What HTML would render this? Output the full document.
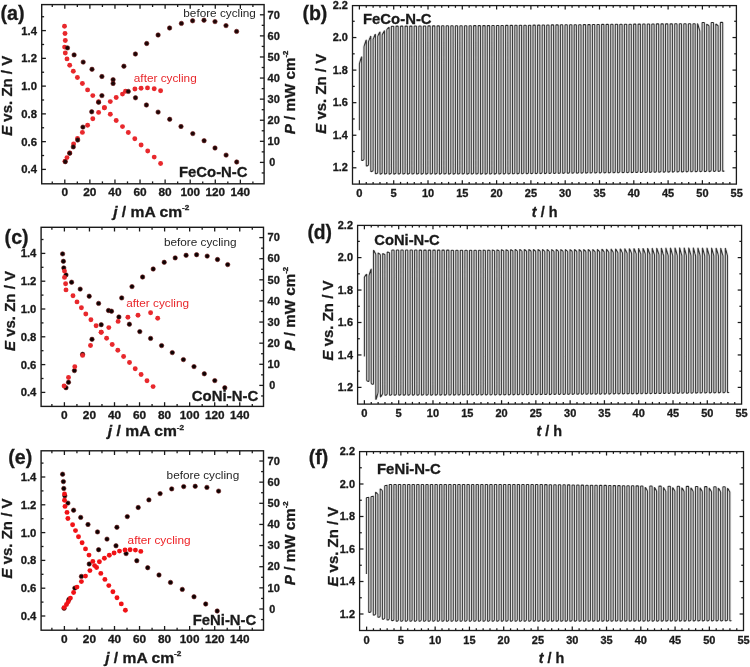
<!DOCTYPE html>
<html lang="en"><head><meta charset="utf-8"><title>Zn-air battery performance: polarization curves and cycling stability</title>
<style>html,body{margin:0;padding:0;background:#fff}svg{display:block;will-change:transform}text{font-family:"Liberation Sans", "DejaVu Sans", sans-serif}</style>
</head><body>
<svg width="750" height="667" viewBox="0 0 750 667">
<rect width="750" height="667" fill="#ffffff"/>
<defs><filter id="soft" x="-2%" y="-2%" width="104%" height="104%"><feConvolveMatrix order="3 1" kernelMatrix="0.07 0.86 0.07" edgeMode="none" preserveAlpha="false"/></filter></defs>
<g id="panel-a">
<line x1="52.26" y1="183.8" x2="52.26" y2="181.4" stroke="#1a1a1a" stroke-width="1.3"/>
<line x1="52.26" y1="4.6" x2="52.26" y2="7" stroke="#1a1a1a" stroke-width="1.3"/>
<line x1="64.8" y1="183.8" x2="64.8" y2="179.6" stroke="#1a1a1a" stroke-width="1.3"/>
<line x1="64.8" y1="4.6" x2="64.8" y2="8.8" stroke="#1a1a1a" stroke-width="1.3"/>
<line x1="77.34" y1="183.8" x2="77.34" y2="181.4" stroke="#1a1a1a" stroke-width="1.3"/>
<line x1="77.34" y1="4.6" x2="77.34" y2="7" stroke="#1a1a1a" stroke-width="1.3"/>
<line x1="89.88" y1="183.8" x2="89.88" y2="179.6" stroke="#1a1a1a" stroke-width="1.3"/>
<line x1="89.88" y1="4.6" x2="89.88" y2="8.8" stroke="#1a1a1a" stroke-width="1.3"/>
<line x1="102.42" y1="183.8" x2="102.42" y2="181.4" stroke="#1a1a1a" stroke-width="1.3"/>
<line x1="102.42" y1="4.6" x2="102.42" y2="7" stroke="#1a1a1a" stroke-width="1.3"/>
<line x1="114.96" y1="183.8" x2="114.96" y2="179.6" stroke="#1a1a1a" stroke-width="1.3"/>
<line x1="114.96" y1="4.6" x2="114.96" y2="8.8" stroke="#1a1a1a" stroke-width="1.3"/>
<line x1="127.5" y1="183.8" x2="127.5" y2="181.4" stroke="#1a1a1a" stroke-width="1.3"/>
<line x1="127.5" y1="4.6" x2="127.5" y2="7" stroke="#1a1a1a" stroke-width="1.3"/>
<line x1="140.04" y1="183.8" x2="140.04" y2="179.6" stroke="#1a1a1a" stroke-width="1.3"/>
<line x1="140.04" y1="4.6" x2="140.04" y2="8.8" stroke="#1a1a1a" stroke-width="1.3"/>
<line x1="152.58" y1="183.8" x2="152.58" y2="181.4" stroke="#1a1a1a" stroke-width="1.3"/>
<line x1="152.58" y1="4.6" x2="152.58" y2="7" stroke="#1a1a1a" stroke-width="1.3"/>
<line x1="165.12" y1="183.8" x2="165.12" y2="179.6" stroke="#1a1a1a" stroke-width="1.3"/>
<line x1="165.12" y1="4.6" x2="165.12" y2="8.8" stroke="#1a1a1a" stroke-width="1.3"/>
<line x1="177.66" y1="183.8" x2="177.66" y2="181.4" stroke="#1a1a1a" stroke-width="1.3"/>
<line x1="177.66" y1="4.6" x2="177.66" y2="7" stroke="#1a1a1a" stroke-width="1.3"/>
<line x1="190.2" y1="183.8" x2="190.2" y2="179.6" stroke="#1a1a1a" stroke-width="1.3"/>
<line x1="190.2" y1="4.6" x2="190.2" y2="8.8" stroke="#1a1a1a" stroke-width="1.3"/>
<line x1="202.74" y1="183.8" x2="202.74" y2="181.4" stroke="#1a1a1a" stroke-width="1.3"/>
<line x1="202.74" y1="4.6" x2="202.74" y2="7" stroke="#1a1a1a" stroke-width="1.3"/>
<line x1="215.28" y1="183.8" x2="215.28" y2="179.6" stroke="#1a1a1a" stroke-width="1.3"/>
<line x1="215.28" y1="4.6" x2="215.28" y2="8.8" stroke="#1a1a1a" stroke-width="1.3"/>
<line x1="227.82" y1="183.8" x2="227.82" y2="181.4" stroke="#1a1a1a" stroke-width="1.3"/>
<line x1="227.82" y1="4.6" x2="227.82" y2="7" stroke="#1a1a1a" stroke-width="1.3"/>
<line x1="240.36" y1="183.8" x2="240.36" y2="179.6" stroke="#1a1a1a" stroke-width="1.3"/>
<line x1="240.36" y1="4.6" x2="240.36" y2="8.8" stroke="#1a1a1a" stroke-width="1.3"/>
<line x1="252.9" y1="183.8" x2="252.9" y2="181.4" stroke="#1a1a1a" stroke-width="1.3"/>
<line x1="252.9" y1="4.6" x2="252.9" y2="7" stroke="#1a1a1a" stroke-width="1.3"/>
<line x1="41.7" y1="169.4" x2="45.9" y2="169.4" stroke="#1a1a1a" stroke-width="1.3"/>
<line x1="41.7" y1="155.52" x2="44.1" y2="155.52" stroke="#1a1a1a" stroke-width="1.3"/>
<line x1="41.7" y1="141.64" x2="45.9" y2="141.64" stroke="#1a1a1a" stroke-width="1.3"/>
<line x1="41.7" y1="127.76" x2="44.1" y2="127.76" stroke="#1a1a1a" stroke-width="1.3"/>
<line x1="41.7" y1="113.88" x2="45.9" y2="113.88" stroke="#1a1a1a" stroke-width="1.3"/>
<line x1="41.7" y1="100" x2="44.1" y2="100" stroke="#1a1a1a" stroke-width="1.3"/>
<line x1="41.7" y1="86.12" x2="45.9" y2="86.12" stroke="#1a1a1a" stroke-width="1.3"/>
<line x1="41.7" y1="72.24" x2="44.1" y2="72.24" stroke="#1a1a1a" stroke-width="1.3"/>
<line x1="41.7" y1="58.36" x2="45.9" y2="58.36" stroke="#1a1a1a" stroke-width="1.3"/>
<line x1="41.7" y1="44.48" x2="44.1" y2="44.48" stroke="#1a1a1a" stroke-width="1.3"/>
<line x1="41.7" y1="30.6" x2="45.9" y2="30.6" stroke="#1a1a1a" stroke-width="1.3"/>
<line x1="41.7" y1="16.72" x2="44.1" y2="16.72" stroke="#1a1a1a" stroke-width="1.3"/>
<line x1="264.1" y1="172.94" x2="261.7" y2="172.94" stroke="#1a1a1a" stroke-width="1.3"/>
<line x1="264.1" y1="162.4" x2="259.9" y2="162.4" stroke="#1a1a1a" stroke-width="1.3"/>
<line x1="264.1" y1="151.86" x2="261.7" y2="151.86" stroke="#1a1a1a" stroke-width="1.3"/>
<line x1="264.1" y1="141.31" x2="259.9" y2="141.31" stroke="#1a1a1a" stroke-width="1.3"/>
<line x1="264.1" y1="130.77" x2="261.7" y2="130.77" stroke="#1a1a1a" stroke-width="1.3"/>
<line x1="264.1" y1="120.23" x2="259.9" y2="120.23" stroke="#1a1a1a" stroke-width="1.3"/>
<line x1="264.1" y1="109.69" x2="261.7" y2="109.69" stroke="#1a1a1a" stroke-width="1.3"/>
<line x1="264.1" y1="99.14" x2="259.9" y2="99.14" stroke="#1a1a1a" stroke-width="1.3"/>
<line x1="264.1" y1="88.6" x2="261.7" y2="88.6" stroke="#1a1a1a" stroke-width="1.3"/>
<line x1="264.1" y1="78.06" x2="259.9" y2="78.06" stroke="#1a1a1a" stroke-width="1.3"/>
<line x1="264.1" y1="67.51" x2="261.7" y2="67.51" stroke="#1a1a1a" stroke-width="1.3"/>
<line x1="264.1" y1="56.97" x2="259.9" y2="56.97" stroke="#1a1a1a" stroke-width="1.3"/>
<line x1="264.1" y1="46.43" x2="261.7" y2="46.43" stroke="#1a1a1a" stroke-width="1.3"/>
<line x1="264.1" y1="35.88" x2="259.9" y2="35.88" stroke="#1a1a1a" stroke-width="1.3"/>
<line x1="264.1" y1="25.34" x2="261.7" y2="25.34" stroke="#1a1a1a" stroke-width="1.3"/>
<line x1="264.1" y1="14.8" x2="259.9" y2="14.8" stroke="#1a1a1a" stroke-width="1.3"/>
<rect x="41.7" y="4.6" width="222.4" height="179.2" fill="none" stroke="#1a1a1a" stroke-width="1.4"/>
<text x="37" y="173.4" font-size="11" font-weight="bold" stroke="#1a1a1a" stroke-width="0.3" text-anchor="end" fill="#1a1a1a" textLength="15.7" lengthAdjust="spacingAndGlyphs">0.4</text>
<text x="37" y="145.64" font-size="11" font-weight="bold" stroke="#1a1a1a" stroke-width="0.3" text-anchor="end" fill="#1a1a1a" textLength="15.7" lengthAdjust="spacingAndGlyphs">0.6</text>
<text x="37" y="117.88" font-size="11" font-weight="bold" stroke="#1a1a1a" stroke-width="0.3" text-anchor="end" fill="#1a1a1a" textLength="15.7" lengthAdjust="spacingAndGlyphs">0.8</text>
<text x="37" y="90.12" font-size="11" font-weight="bold" stroke="#1a1a1a" stroke-width="0.3" text-anchor="end" fill="#1a1a1a" textLength="15.7" lengthAdjust="spacingAndGlyphs">1.0</text>
<text x="37" y="62.36" font-size="11" font-weight="bold" stroke="#1a1a1a" stroke-width="0.3" text-anchor="end" fill="#1a1a1a" textLength="15.7" lengthAdjust="spacingAndGlyphs">1.2</text>
<text x="37" y="34.6" font-size="11" font-weight="bold" stroke="#1a1a1a" stroke-width="0.3" text-anchor="end" fill="#1a1a1a" textLength="15.7" lengthAdjust="spacingAndGlyphs">1.4</text>
<text x="269.3" y="166.1" font-size="11" font-weight="bold" stroke="#1a1a1a" stroke-width="0.3" fill="#1a1a1a" textLength="6" lengthAdjust="spacingAndGlyphs">0</text>
<text x="267.6" y="145.01" font-size="11" font-weight="bold" stroke="#1a1a1a" stroke-width="0.3" fill="#1a1a1a" textLength="12.3" lengthAdjust="spacingAndGlyphs">10</text>
<text x="267.6" y="123.93" font-size="11" font-weight="bold" stroke="#1a1a1a" stroke-width="0.3" fill="#1a1a1a" textLength="12.3" lengthAdjust="spacingAndGlyphs">20</text>
<text x="267.6" y="102.84" font-size="11" font-weight="bold" stroke="#1a1a1a" stroke-width="0.3" fill="#1a1a1a" textLength="12.3" lengthAdjust="spacingAndGlyphs">30</text>
<text x="267.6" y="81.76" font-size="11" font-weight="bold" stroke="#1a1a1a" stroke-width="0.3" fill="#1a1a1a" textLength="12.3" lengthAdjust="spacingAndGlyphs">40</text>
<text x="267.6" y="60.67" font-size="11" font-weight="bold" stroke="#1a1a1a" stroke-width="0.3" fill="#1a1a1a" textLength="12.3" lengthAdjust="spacingAndGlyphs">50</text>
<text x="267.6" y="39.58" font-size="11" font-weight="bold" stroke="#1a1a1a" stroke-width="0.3" fill="#1a1a1a" textLength="12.3" lengthAdjust="spacingAndGlyphs">60</text>
<text x="267.6" y="18.5" font-size="11" font-weight="bold" stroke="#1a1a1a" stroke-width="0.3" fill="#1a1a1a" textLength="12.3" lengthAdjust="spacingAndGlyphs">70</text>
<text x="64.8" y="196.3" font-size="11" font-weight="bold" stroke="#1a1a1a" stroke-width="0.3" text-anchor="middle" fill="#1a1a1a" textLength="6.6" lengthAdjust="spacingAndGlyphs">0</text>
<text x="89.88" y="196.3" font-size="11" font-weight="bold" stroke="#1a1a1a" stroke-width="0.3" text-anchor="middle" fill="#1a1a1a" textLength="13.2" lengthAdjust="spacingAndGlyphs">20</text>
<text x="114.96" y="196.3" font-size="11" font-weight="bold" stroke="#1a1a1a" stroke-width="0.3" text-anchor="middle" fill="#1a1a1a" textLength="13.2" lengthAdjust="spacingAndGlyphs">40</text>
<text x="140.04" y="196.3" font-size="11" font-weight="bold" stroke="#1a1a1a" stroke-width="0.3" text-anchor="middle" fill="#1a1a1a" textLength="13.2" lengthAdjust="spacingAndGlyphs">60</text>
<text x="165.12" y="196.3" font-size="11" font-weight="bold" stroke="#1a1a1a" stroke-width="0.3" text-anchor="middle" fill="#1a1a1a" textLength="13.2" lengthAdjust="spacingAndGlyphs">80</text>
<text x="190.2" y="196.3" font-size="11" font-weight="bold" stroke="#1a1a1a" stroke-width="0.3" text-anchor="middle" fill="#1a1a1a" textLength="19.6" lengthAdjust="spacingAndGlyphs">100</text>
<text x="215.28" y="196.3" font-size="11" font-weight="bold" stroke="#1a1a1a" stroke-width="0.3" text-anchor="middle" fill="#1a1a1a" textLength="19.6" lengthAdjust="spacingAndGlyphs">120</text>
<text x="240.36" y="196.3" font-size="11" font-weight="bold" stroke="#1a1a1a" stroke-width="0.3" text-anchor="middle" fill="#1a1a1a" textLength="19.6" lengthAdjust="spacingAndGlyphs">140</text>
<text x="12.4" y="95.8" font-size="15.3" font-weight="bold" stroke="#1a1a1a" stroke-width="0.3" text-anchor="middle" fill="#1a1a1a" textLength="80" lengthAdjust="spacingAndGlyphs" transform="rotate(-90 12.4 95.8)"><tspan font-style="italic">E</tspan> vs. Zn / V</text>
<text x="295" y="92.5" font-size="15.3" font-weight="bold" stroke="#1a1a1a" stroke-width="0.3" text-anchor="middle" fill="#1a1a1a" textLength="83.7" lengthAdjust="spacingAndGlyphs" transform="rotate(-90 295 92.5)"><tspan font-style="italic">P</tspan> / mW cm<tspan font-size="7.8" dy="-6.6">-2</tspan></text>
<text x="151.3" y="217" font-size="14.8" font-weight="bold" stroke="#1a1a1a" stroke-width="0.3" text-anchor="middle" fill="#1a1a1a" textLength="76.3" lengthAdjust="spacingAndGlyphs"><tspan font-style="italic">j</tspan> / mA cm<tspan font-size="7.8" dy="-6.6">-2</tspan></text>
<text x="0.5" y="20.3" font-size="20.3" font-weight="bold" stroke="#1a1a1a" stroke-width="0.3" fill="#1a1a1a" textLength="24.2" lengthAdjust="spacingAndGlyphs">(a)</text>
<g fill="#e8282c">
<circle cx="64.5" cy="26.3" r="2.45"/>
<circle cx="65" cy="33.5" r="2.45"/>
<circle cx="65.3" cy="40.5" r="2.45"/>
<circle cx="64.6" cy="47.1" r="2.45"/>
<circle cx="65.3" cy="53" r="2.45"/>
<circle cx="67" cy="58.9" r="2.45"/>
<circle cx="69.7" cy="65.2" r="2.45"/>
<circle cx="73.3" cy="71.3" r="2.45"/>
<circle cx="77.4" cy="77.5" r="2.45"/>
<circle cx="82.4" cy="83.5" r="2.45"/>
<circle cx="87.6" cy="89.9" r="2.45"/>
<circle cx="92.8" cy="95.6" r="2.45"/>
<circle cx="98.6" cy="101.8" r="2.45"/>
<circle cx="104.4" cy="107.7" r="2.45"/>
<circle cx="110.3" cy="114.3" r="2.45"/>
<circle cx="116.2" cy="120.5" r="2.45"/>
<circle cx="122.5" cy="126.6" r="2.45"/>
<circle cx="128.3" cy="132.5" r="2.45"/>
<circle cx="134.8" cy="138.8" r="2.45"/>
<circle cx="141.1" cy="145" r="2.45"/>
<circle cx="147.7" cy="151" r="2.45"/>
<circle cx="154.2" cy="157.1" r="2.45"/>
<circle cx="160.6" cy="163.5" r="2.45"/>
</g>
<g fill="#e8282c">
<circle cx="65" cy="161.3" r="2.45"/>
<circle cx="67" cy="157.6" r="2.45"/>
<circle cx="69.7" cy="153" r="2.45"/>
<circle cx="73.6" cy="144" r="2.45"/>
<circle cx="77.5" cy="138.5" r="2.45"/>
<circle cx="82.4" cy="132.4" r="2.45"/>
<circle cx="87.6" cy="125.3" r="2.45"/>
<circle cx="92.8" cy="118.7" r="2.45"/>
<circle cx="98.6" cy="112.4" r="2.45"/>
<circle cx="104.4" cy="107.7" r="2.45"/>
<circle cx="110.3" cy="101.6" r="2.45"/>
<circle cx="116.2" cy="97.5" r="2.45"/>
<circle cx="122.5" cy="94.1" r="2.45"/>
<circle cx="125.5" cy="91.2" r="2.45"/>
<circle cx="134.9" cy="89" r="2.45"/>
<circle cx="141.1" cy="88.2" r="2.45"/>
<circle cx="147.5" cy="87.9" r="2.45"/>
<circle cx="154.2" cy="88.8" r="2.45"/>
<circle cx="160.6" cy="90.8" r="2.45"/>
</g>
<g fill="#1c0707" stroke="#6e1616" stroke-width="0.6">
<circle cx="65.3" cy="161.7" r="2.2"/>
<circle cx="69.7" cy="153.2" r="2.2"/>
<circle cx="73.3" cy="146.9" r="2.2"/>
<circle cx="77.7" cy="140" r="2.2"/>
<circle cx="82.9" cy="127.1" r="2.2"/>
<circle cx="91.7" cy="111.8" r="2.2"/>
<circle cx="98.6" cy="102.3" r="2.2"/>
<circle cx="101.9" cy="95.6" r="2.2"/>
<circle cx="113.1" cy="79.7" r="2.2"/>
<circle cx="123.9" cy="66.2" r="2.2"/>
<circle cx="135.4" cy="54" r="2.2"/>
<circle cx="146.7" cy="43.5" r="2.2"/>
<circle cx="158.1" cy="35" r="2.2"/>
<circle cx="169.6" cy="28" r="2.2"/>
<circle cx="181.4" cy="23.4" r="2.2"/>
<circle cx="192.6" cy="20.8" r="2.2"/>
<circle cx="204" cy="20.2" r="2.2"/>
<circle cx="215" cy="21.6" r="2.2"/>
<circle cx="226" cy="25.6" r="2.2"/>
<circle cx="236.6" cy="31.4" r="2.2"/>
</g>
<g fill="#1c0707" stroke="#6e1616" stroke-width="0.6">
<circle cx="67.5" cy="47.9" r="2.2"/>
<circle cx="74.1" cy="54.9" r="2.2"/>
<circle cx="83.2" cy="62.1" r="2.2"/>
<circle cx="92" cy="69.3" r="2.2"/>
<circle cx="101.9" cy="76.5" r="2.2"/>
<circle cx="113.1" cy="83.5" r="2.2"/>
<circle cx="128.3" cy="91.4" r="2.2"/>
<circle cx="135.5" cy="97.8" r="2.2"/>
<circle cx="146.4" cy="105" r="2.2"/>
<circle cx="158.1" cy="112.1" r="2.2"/>
<circle cx="169.7" cy="119.3" r="2.2"/>
<circle cx="181" cy="126.5" r="2.2"/>
<circle cx="192.8" cy="133.6" r="2.2"/>
<circle cx="204.1" cy="140.7" r="2.2"/>
<circle cx="215" cy="148" r="2.2"/>
<circle cx="226.1" cy="155.1" r="2.2"/>
<circle cx="236.7" cy="162" r="2.2"/>
</g>
<text x="183.3" y="17.2" font-size="11.7" fill="#262626" textLength="72.6" lengthAdjust="spacingAndGlyphs">before cycling</text>
<text x="133.8" y="82" font-size="11.7" fill="#e8282c" textLength="62.9" lengthAdjust="spacingAndGlyphs">after cycling</text>
<text x="179" y="176.9" font-size="14.8" font-weight="bold" stroke="#1a1a1a" stroke-width="0.3" fill="#1a1a1a" textLength="68.5" lengthAdjust="spacingAndGlyphs">FeCo-N-C</text>
</g>
<g id="panel-c">
<line x1="51.88" y1="406.4" x2="51.88" y2="404" stroke="#1a1a1a" stroke-width="1.3"/>
<line x1="51.88" y1="227.3" x2="51.88" y2="229.7" stroke="#1a1a1a" stroke-width="1.3"/>
<line x1="64.4" y1="406.4" x2="64.4" y2="402.2" stroke="#1a1a1a" stroke-width="1.3"/>
<line x1="64.4" y1="227.3" x2="64.4" y2="231.5" stroke="#1a1a1a" stroke-width="1.3"/>
<line x1="76.93" y1="406.4" x2="76.93" y2="404" stroke="#1a1a1a" stroke-width="1.3"/>
<line x1="76.93" y1="227.3" x2="76.93" y2="229.7" stroke="#1a1a1a" stroke-width="1.3"/>
<line x1="89.45" y1="406.4" x2="89.45" y2="402.2" stroke="#1a1a1a" stroke-width="1.3"/>
<line x1="89.45" y1="227.3" x2="89.45" y2="231.5" stroke="#1a1a1a" stroke-width="1.3"/>
<line x1="101.97" y1="406.4" x2="101.97" y2="404" stroke="#1a1a1a" stroke-width="1.3"/>
<line x1="101.97" y1="227.3" x2="101.97" y2="229.7" stroke="#1a1a1a" stroke-width="1.3"/>
<line x1="114.5" y1="406.4" x2="114.5" y2="402.2" stroke="#1a1a1a" stroke-width="1.3"/>
<line x1="114.5" y1="227.3" x2="114.5" y2="231.5" stroke="#1a1a1a" stroke-width="1.3"/>
<line x1="127.03" y1="406.4" x2="127.03" y2="404" stroke="#1a1a1a" stroke-width="1.3"/>
<line x1="127.03" y1="227.3" x2="127.03" y2="229.7" stroke="#1a1a1a" stroke-width="1.3"/>
<line x1="139.55" y1="406.4" x2="139.55" y2="402.2" stroke="#1a1a1a" stroke-width="1.3"/>
<line x1="139.55" y1="227.3" x2="139.55" y2="231.5" stroke="#1a1a1a" stroke-width="1.3"/>
<line x1="152.07" y1="406.4" x2="152.07" y2="404" stroke="#1a1a1a" stroke-width="1.3"/>
<line x1="152.07" y1="227.3" x2="152.07" y2="229.7" stroke="#1a1a1a" stroke-width="1.3"/>
<line x1="164.6" y1="406.4" x2="164.6" y2="402.2" stroke="#1a1a1a" stroke-width="1.3"/>
<line x1="164.6" y1="227.3" x2="164.6" y2="231.5" stroke="#1a1a1a" stroke-width="1.3"/>
<line x1="177.12" y1="406.4" x2="177.12" y2="404" stroke="#1a1a1a" stroke-width="1.3"/>
<line x1="177.12" y1="227.3" x2="177.12" y2="229.7" stroke="#1a1a1a" stroke-width="1.3"/>
<line x1="189.65" y1="406.4" x2="189.65" y2="402.2" stroke="#1a1a1a" stroke-width="1.3"/>
<line x1="189.65" y1="227.3" x2="189.65" y2="231.5" stroke="#1a1a1a" stroke-width="1.3"/>
<line x1="202.18" y1="406.4" x2="202.18" y2="404" stroke="#1a1a1a" stroke-width="1.3"/>
<line x1="202.18" y1="227.3" x2="202.18" y2="229.7" stroke="#1a1a1a" stroke-width="1.3"/>
<line x1="214.7" y1="406.4" x2="214.7" y2="402.2" stroke="#1a1a1a" stroke-width="1.3"/>
<line x1="214.7" y1="227.3" x2="214.7" y2="231.5" stroke="#1a1a1a" stroke-width="1.3"/>
<line x1="227.22" y1="406.4" x2="227.22" y2="404" stroke="#1a1a1a" stroke-width="1.3"/>
<line x1="227.22" y1="227.3" x2="227.22" y2="229.7" stroke="#1a1a1a" stroke-width="1.3"/>
<line x1="239.75" y1="406.4" x2="239.75" y2="402.2" stroke="#1a1a1a" stroke-width="1.3"/>
<line x1="239.75" y1="227.3" x2="239.75" y2="231.5" stroke="#1a1a1a" stroke-width="1.3"/>
<line x1="252.28" y1="406.4" x2="252.28" y2="404" stroke="#1a1a1a" stroke-width="1.3"/>
<line x1="252.28" y1="227.3" x2="252.28" y2="229.7" stroke="#1a1a1a" stroke-width="1.3"/>
<line x1="41.1" y1="392.4" x2="45.3" y2="392.4" stroke="#1a1a1a" stroke-width="1.3"/>
<line x1="41.1" y1="378.5" x2="43.5" y2="378.5" stroke="#1a1a1a" stroke-width="1.3"/>
<line x1="41.1" y1="364.6" x2="45.3" y2="364.6" stroke="#1a1a1a" stroke-width="1.3"/>
<line x1="41.1" y1="350.7" x2="43.5" y2="350.7" stroke="#1a1a1a" stroke-width="1.3"/>
<line x1="41.1" y1="336.8" x2="45.3" y2="336.8" stroke="#1a1a1a" stroke-width="1.3"/>
<line x1="41.1" y1="322.9" x2="43.5" y2="322.9" stroke="#1a1a1a" stroke-width="1.3"/>
<line x1="41.1" y1="309" x2="45.3" y2="309" stroke="#1a1a1a" stroke-width="1.3"/>
<line x1="41.1" y1="295.1" x2="43.5" y2="295.1" stroke="#1a1a1a" stroke-width="1.3"/>
<line x1="41.1" y1="281.2" x2="45.3" y2="281.2" stroke="#1a1a1a" stroke-width="1.3"/>
<line x1="41.1" y1="267.3" x2="43.5" y2="267.3" stroke="#1a1a1a" stroke-width="1.3"/>
<line x1="41.1" y1="253.4" x2="45.3" y2="253.4" stroke="#1a1a1a" stroke-width="1.3"/>
<line x1="41.1" y1="239.5" x2="43.5" y2="239.5" stroke="#1a1a1a" stroke-width="1.3"/>
<line x1="263.5" y1="395.96" x2="261.1" y2="395.96" stroke="#1a1a1a" stroke-width="1.3"/>
<line x1="263.5" y1="385.4" x2="259.3" y2="385.4" stroke="#1a1a1a" stroke-width="1.3"/>
<line x1="263.5" y1="374.84" x2="261.1" y2="374.84" stroke="#1a1a1a" stroke-width="1.3"/>
<line x1="263.5" y1="364.29" x2="259.3" y2="364.29" stroke="#1a1a1a" stroke-width="1.3"/>
<line x1="263.5" y1="353.73" x2="261.1" y2="353.73" stroke="#1a1a1a" stroke-width="1.3"/>
<line x1="263.5" y1="343.17" x2="259.3" y2="343.17" stroke="#1a1a1a" stroke-width="1.3"/>
<line x1="263.5" y1="332.61" x2="261.1" y2="332.61" stroke="#1a1a1a" stroke-width="1.3"/>
<line x1="263.5" y1="322.06" x2="259.3" y2="322.06" stroke="#1a1a1a" stroke-width="1.3"/>
<line x1="263.5" y1="311.5" x2="261.1" y2="311.5" stroke="#1a1a1a" stroke-width="1.3"/>
<line x1="263.5" y1="300.94" x2="259.3" y2="300.94" stroke="#1a1a1a" stroke-width="1.3"/>
<line x1="263.5" y1="290.39" x2="261.1" y2="290.39" stroke="#1a1a1a" stroke-width="1.3"/>
<line x1="263.5" y1="279.83" x2="259.3" y2="279.83" stroke="#1a1a1a" stroke-width="1.3"/>
<line x1="263.5" y1="269.27" x2="261.1" y2="269.27" stroke="#1a1a1a" stroke-width="1.3"/>
<line x1="263.5" y1="258.72" x2="259.3" y2="258.72" stroke="#1a1a1a" stroke-width="1.3"/>
<line x1="263.5" y1="248.16" x2="261.1" y2="248.16" stroke="#1a1a1a" stroke-width="1.3"/>
<line x1="263.5" y1="237.6" x2="259.3" y2="237.6" stroke="#1a1a1a" stroke-width="1.3"/>
<rect x="41.1" y="227.3" width="222.4" height="179.1" fill="none" stroke="#1a1a1a" stroke-width="1.4"/>
<text x="36.4" y="396.4" font-size="11" font-weight="bold" stroke="#1a1a1a" stroke-width="0.3" text-anchor="end" fill="#1a1a1a" textLength="15.7" lengthAdjust="spacingAndGlyphs">0.4</text>
<text x="36.4" y="368.6" font-size="11" font-weight="bold" stroke="#1a1a1a" stroke-width="0.3" text-anchor="end" fill="#1a1a1a" textLength="15.7" lengthAdjust="spacingAndGlyphs">0.6</text>
<text x="36.4" y="340.8" font-size="11" font-weight="bold" stroke="#1a1a1a" stroke-width="0.3" text-anchor="end" fill="#1a1a1a" textLength="15.7" lengthAdjust="spacingAndGlyphs">0.8</text>
<text x="36.4" y="313" font-size="11" font-weight="bold" stroke="#1a1a1a" stroke-width="0.3" text-anchor="end" fill="#1a1a1a" textLength="15.7" lengthAdjust="spacingAndGlyphs">1.0</text>
<text x="36.4" y="285.2" font-size="11" font-weight="bold" stroke="#1a1a1a" stroke-width="0.3" text-anchor="end" fill="#1a1a1a" textLength="15.7" lengthAdjust="spacingAndGlyphs">1.2</text>
<text x="36.4" y="257.4" font-size="11" font-weight="bold" stroke="#1a1a1a" stroke-width="0.3" text-anchor="end" fill="#1a1a1a" textLength="15.7" lengthAdjust="spacingAndGlyphs">1.4</text>
<text x="269.3" y="389.1" font-size="11" font-weight="bold" stroke="#1a1a1a" stroke-width="0.3" fill="#1a1a1a" textLength="6" lengthAdjust="spacingAndGlyphs">0</text>
<text x="267.6" y="367.99" font-size="11" font-weight="bold" stroke="#1a1a1a" stroke-width="0.3" fill="#1a1a1a" textLength="12.3" lengthAdjust="spacingAndGlyphs">10</text>
<text x="267.6" y="346.87" font-size="11" font-weight="bold" stroke="#1a1a1a" stroke-width="0.3" fill="#1a1a1a" textLength="12.3" lengthAdjust="spacingAndGlyphs">20</text>
<text x="267.6" y="325.76" font-size="11" font-weight="bold" stroke="#1a1a1a" stroke-width="0.3" fill="#1a1a1a" textLength="12.3" lengthAdjust="spacingAndGlyphs">30</text>
<text x="267.6" y="304.64" font-size="11" font-weight="bold" stroke="#1a1a1a" stroke-width="0.3" fill="#1a1a1a" textLength="12.3" lengthAdjust="spacingAndGlyphs">40</text>
<text x="267.6" y="283.53" font-size="11" font-weight="bold" stroke="#1a1a1a" stroke-width="0.3" fill="#1a1a1a" textLength="12.3" lengthAdjust="spacingAndGlyphs">50</text>
<text x="267.6" y="262.42" font-size="11" font-weight="bold" stroke="#1a1a1a" stroke-width="0.3" fill="#1a1a1a" textLength="12.3" lengthAdjust="spacingAndGlyphs">60</text>
<text x="267.6" y="241.3" font-size="11" font-weight="bold" stroke="#1a1a1a" stroke-width="0.3" fill="#1a1a1a" textLength="12.3" lengthAdjust="spacingAndGlyphs">70</text>
<text x="64.4" y="418.9" font-size="11" font-weight="bold" stroke="#1a1a1a" stroke-width="0.3" text-anchor="middle" fill="#1a1a1a" textLength="6.6" lengthAdjust="spacingAndGlyphs">0</text>
<text x="89.45" y="418.9" font-size="11" font-weight="bold" stroke="#1a1a1a" stroke-width="0.3" text-anchor="middle" fill="#1a1a1a" textLength="13.2" lengthAdjust="spacingAndGlyphs">20</text>
<text x="114.5" y="418.9" font-size="11" font-weight="bold" stroke="#1a1a1a" stroke-width="0.3" text-anchor="middle" fill="#1a1a1a" textLength="13.2" lengthAdjust="spacingAndGlyphs">40</text>
<text x="139.55" y="418.9" font-size="11" font-weight="bold" stroke="#1a1a1a" stroke-width="0.3" text-anchor="middle" fill="#1a1a1a" textLength="13.2" lengthAdjust="spacingAndGlyphs">60</text>
<text x="164.6" y="418.9" font-size="11" font-weight="bold" stroke="#1a1a1a" stroke-width="0.3" text-anchor="middle" fill="#1a1a1a" textLength="13.2" lengthAdjust="spacingAndGlyphs">80</text>
<text x="189.65" y="418.9" font-size="11" font-weight="bold" stroke="#1a1a1a" stroke-width="0.3" text-anchor="middle" fill="#1a1a1a" textLength="19.6" lengthAdjust="spacingAndGlyphs">100</text>
<text x="214.7" y="418.9" font-size="11" font-weight="bold" stroke="#1a1a1a" stroke-width="0.3" text-anchor="middle" fill="#1a1a1a" textLength="19.6" lengthAdjust="spacingAndGlyphs">120</text>
<text x="239.75" y="418.9" font-size="11" font-weight="bold" stroke="#1a1a1a" stroke-width="0.3" text-anchor="middle" fill="#1a1a1a" textLength="19.6" lengthAdjust="spacingAndGlyphs">140</text>
<text x="14.8" y="311" font-size="15.3" font-weight="bold" stroke="#1a1a1a" stroke-width="0.3" text-anchor="middle" fill="#1a1a1a" textLength="80" lengthAdjust="spacingAndGlyphs" transform="rotate(-90 14.8 311)"><tspan font-style="italic">E</tspan> vs. Zn / V</text>
<text x="295" y="308.8" font-size="15.3" font-weight="bold" stroke="#1a1a1a" stroke-width="0.3" text-anchor="middle" fill="#1a1a1a" textLength="83.7" lengthAdjust="spacingAndGlyphs" transform="rotate(-90 295 308.8)"><tspan font-style="italic">P</tspan> / mW cm<tspan font-size="7.8" dy="-6.6">-2</tspan></text>
<text x="146" y="436.3" font-size="14.8" font-weight="bold" stroke="#1a1a1a" stroke-width="0.3" text-anchor="middle" fill="#1a1a1a" textLength="76.3" lengthAdjust="spacingAndGlyphs"><tspan font-style="italic">j</tspan> / mA cm<tspan font-size="7.8" dy="-6.6">-2</tspan></text>
<text x="4.6" y="243.8" font-size="20.3" font-weight="bold" stroke="#1a1a1a" stroke-width="0.3" fill="#1a1a1a" textLength="24" lengthAdjust="spacingAndGlyphs">(c)</text>
<g fill="#0c0303" stroke="#6e1616" stroke-width="0.6">
<circle cx="62.6" cy="253.9" r="2.2"/>
<circle cx="63.4" cy="261.3" r="2.2"/>
<circle cx="63.8" cy="267.9" r="2.2"/>
<circle cx="66" cy="274.9" r="2.2"/>
<circle cx="71.6" cy="282.2" r="2.2"/>
<circle cx="80.2" cy="289.1" r="2.2"/>
<circle cx="89.2" cy="296.2" r="2.2"/>
<circle cx="98.6" cy="303.4" r="2.2"/>
<circle cx="108.5" cy="310.5" r="2.2"/>
<circle cx="118.9" cy="317" r="2.2"/>
<circle cx="129.4" cy="324.2" r="2.2"/>
<circle cx="139.8" cy="331.6" r="2.2"/>
<circle cx="150.6" cy="338.4" r="2.2"/>
<circle cx="161.6" cy="345.6" r="2.2"/>
<circle cx="172.3" cy="352.6" r="2.2"/>
<circle cx="183.4" cy="359.6" r="2.2"/>
<circle cx="194" cy="366.6" r="2.2"/>
<circle cx="204.3" cy="373.8" r="2.2"/>
<circle cx="214.8" cy="380.6" r="2.2"/>
<circle cx="224.8" cy="387.8" r="2.2"/>
</g>
<g fill="#0c0303" stroke="#6e1616" stroke-width="0.6">
<circle cx="66" cy="387.7" r="2.2"/>
<circle cx="68.5" cy="382.3" r="2.2"/>
<circle cx="74.4" cy="370.6" r="2.2"/>
<circle cx="82.6" cy="354.3" r="2.2"/>
<circle cx="92" cy="339.3" r="2.2"/>
<circle cx="101.2" cy="324.7" r="2.2"/>
<circle cx="111.5" cy="311.2" r="2.2"/>
<circle cx="121.7" cy="297.9" r="2.2"/>
<circle cx="132" cy="286.6" r="2.2"/>
<circle cx="142.6" cy="277" r="2.2"/>
<circle cx="153.2" cy="269" r="2.2"/>
<circle cx="164.2" cy="262.3" r="2.2"/>
<circle cx="175.2" cy="257.9" r="2.2"/>
<circle cx="186.1" cy="255.3" r="2.2"/>
<circle cx="196.6" cy="254.7" r="2.2"/>
<circle cx="207.2" cy="256.1" r="2.2"/>
<circle cx="217.5" cy="259.5" r="2.2"/>
<circle cx="227.7" cy="264.6" r="2.2"/>
</g>
<g fill="#e8282c">
<circle cx="64.5" cy="271.1" r="2.45"/>
<circle cx="64.5" cy="277.4" r="2.45"/>
<circle cx="65.6" cy="283.7" r="2.45"/>
<circle cx="66" cy="289.9" r="2.45"/>
<circle cx="73" cy="295.7" r="2.45"/>
<circle cx="77" cy="301.9" r="2.45"/>
<circle cx="81.4" cy="307.8" r="2.45"/>
<circle cx="85.8" cy="314" r="2.45"/>
<circle cx="90.9" cy="319.8" r="2.45"/>
<circle cx="96.1" cy="325.8" r="2.45"/>
<circle cx="101.2" cy="332.3" r="2.45"/>
<circle cx="106.6" cy="338.2" r="2.45"/>
<circle cx="112.2" cy="344.5" r="2.45"/>
<circle cx="117.8" cy="350.3" r="2.45"/>
<circle cx="123.6" cy="356.5" r="2.45"/>
<circle cx="129.5" cy="362.5" r="2.45"/>
<circle cx="135.2" cy="368.7" r="2.45"/>
<circle cx="141.1" cy="374.5" r="2.45"/>
<circle cx="147" cy="380.7" r="2.45"/>
<circle cx="153.1" cy="386.6" r="2.45"/>
</g>
<g fill="#e8282c">
<circle cx="64.1" cy="386" r="2.45"/>
<circle cx="68.5" cy="377.5" r="2.45"/>
<circle cx="74.8" cy="366.8" r="2.45"/>
<circle cx="82.6" cy="355.4" r="2.45"/>
<circle cx="90.5" cy="345.5" r="2.45"/>
<circle cx="101.2" cy="332.3" r="2.45"/>
<circle cx="108.8" cy="327.6" r="2.45"/>
<circle cx="118.1" cy="321.4" r="2.45"/>
<circle cx="127.9" cy="317.2" r="2.45"/>
<circle cx="138" cy="315.3" r="2.45"/>
<circle cx="150.6" cy="312.8" r="2.45"/>
<circle cx="157.7" cy="318.2" r="2.45"/>
</g>
<text x="163.9" y="246.3" font-size="11.7" fill="#262626" textLength="72.6" lengthAdjust="spacingAndGlyphs">before cycling</text>
<text x="126.2" y="307.4" font-size="11.7" fill="#e8282c" textLength="62.9" lengthAdjust="spacingAndGlyphs">after cycling</text>
<text x="191.8" y="401" font-size="14.8" font-weight="bold" stroke="#1a1a1a" stroke-width="0.3" fill="#1a1a1a" textLength="66.4" lengthAdjust="spacingAndGlyphs">CoNi-N-C</text>
</g>
<g id="panel-e">
<line x1="51.88" y1="630.2" x2="51.88" y2="627.8" stroke="#1a1a1a" stroke-width="1.3"/>
<line x1="51.88" y1="450.8" x2="51.88" y2="453.2" stroke="#1a1a1a" stroke-width="1.3"/>
<line x1="64.4" y1="630.2" x2="64.4" y2="626" stroke="#1a1a1a" stroke-width="1.3"/>
<line x1="64.4" y1="450.8" x2="64.4" y2="455" stroke="#1a1a1a" stroke-width="1.3"/>
<line x1="76.93" y1="630.2" x2="76.93" y2="627.8" stroke="#1a1a1a" stroke-width="1.3"/>
<line x1="76.93" y1="450.8" x2="76.93" y2="453.2" stroke="#1a1a1a" stroke-width="1.3"/>
<line x1="89.45" y1="630.2" x2="89.45" y2="626" stroke="#1a1a1a" stroke-width="1.3"/>
<line x1="89.45" y1="450.8" x2="89.45" y2="455" stroke="#1a1a1a" stroke-width="1.3"/>
<line x1="101.97" y1="630.2" x2="101.97" y2="627.8" stroke="#1a1a1a" stroke-width="1.3"/>
<line x1="101.97" y1="450.8" x2="101.97" y2="453.2" stroke="#1a1a1a" stroke-width="1.3"/>
<line x1="114.5" y1="630.2" x2="114.5" y2="626" stroke="#1a1a1a" stroke-width="1.3"/>
<line x1="114.5" y1="450.8" x2="114.5" y2="455" stroke="#1a1a1a" stroke-width="1.3"/>
<line x1="127.03" y1="630.2" x2="127.03" y2="627.8" stroke="#1a1a1a" stroke-width="1.3"/>
<line x1="127.03" y1="450.8" x2="127.03" y2="453.2" stroke="#1a1a1a" stroke-width="1.3"/>
<line x1="139.55" y1="630.2" x2="139.55" y2="626" stroke="#1a1a1a" stroke-width="1.3"/>
<line x1="139.55" y1="450.8" x2="139.55" y2="455" stroke="#1a1a1a" stroke-width="1.3"/>
<line x1="152.07" y1="630.2" x2="152.07" y2="627.8" stroke="#1a1a1a" stroke-width="1.3"/>
<line x1="152.07" y1="450.8" x2="152.07" y2="453.2" stroke="#1a1a1a" stroke-width="1.3"/>
<line x1="164.6" y1="630.2" x2="164.6" y2="626" stroke="#1a1a1a" stroke-width="1.3"/>
<line x1="164.6" y1="450.8" x2="164.6" y2="455" stroke="#1a1a1a" stroke-width="1.3"/>
<line x1="177.12" y1="630.2" x2="177.12" y2="627.8" stroke="#1a1a1a" stroke-width="1.3"/>
<line x1="177.12" y1="450.8" x2="177.12" y2="453.2" stroke="#1a1a1a" stroke-width="1.3"/>
<line x1="189.65" y1="630.2" x2="189.65" y2="626" stroke="#1a1a1a" stroke-width="1.3"/>
<line x1="189.65" y1="450.8" x2="189.65" y2="455" stroke="#1a1a1a" stroke-width="1.3"/>
<line x1="202.18" y1="630.2" x2="202.18" y2="627.8" stroke="#1a1a1a" stroke-width="1.3"/>
<line x1="202.18" y1="450.8" x2="202.18" y2="453.2" stroke="#1a1a1a" stroke-width="1.3"/>
<line x1="214.7" y1="630.2" x2="214.7" y2="626" stroke="#1a1a1a" stroke-width="1.3"/>
<line x1="214.7" y1="450.8" x2="214.7" y2="455" stroke="#1a1a1a" stroke-width="1.3"/>
<line x1="227.22" y1="630.2" x2="227.22" y2="627.8" stroke="#1a1a1a" stroke-width="1.3"/>
<line x1="227.22" y1="450.8" x2="227.22" y2="453.2" stroke="#1a1a1a" stroke-width="1.3"/>
<line x1="239.75" y1="630.2" x2="239.75" y2="626" stroke="#1a1a1a" stroke-width="1.3"/>
<line x1="239.75" y1="450.8" x2="239.75" y2="455" stroke="#1a1a1a" stroke-width="1.3"/>
<line x1="252.28" y1="630.2" x2="252.28" y2="627.8" stroke="#1a1a1a" stroke-width="1.3"/>
<line x1="252.28" y1="450.8" x2="252.28" y2="453.2" stroke="#1a1a1a" stroke-width="1.3"/>
<line x1="41.1" y1="616" x2="45.3" y2="616" stroke="#1a1a1a" stroke-width="1.3"/>
<line x1="41.1" y1="602.1" x2="43.5" y2="602.1" stroke="#1a1a1a" stroke-width="1.3"/>
<line x1="41.1" y1="588.2" x2="45.3" y2="588.2" stroke="#1a1a1a" stroke-width="1.3"/>
<line x1="41.1" y1="574.3" x2="43.5" y2="574.3" stroke="#1a1a1a" stroke-width="1.3"/>
<line x1="41.1" y1="560.4" x2="45.3" y2="560.4" stroke="#1a1a1a" stroke-width="1.3"/>
<line x1="41.1" y1="546.5" x2="43.5" y2="546.5" stroke="#1a1a1a" stroke-width="1.3"/>
<line x1="41.1" y1="532.6" x2="45.3" y2="532.6" stroke="#1a1a1a" stroke-width="1.3"/>
<line x1="41.1" y1="518.7" x2="43.5" y2="518.7" stroke="#1a1a1a" stroke-width="1.3"/>
<line x1="41.1" y1="504.8" x2="45.3" y2="504.8" stroke="#1a1a1a" stroke-width="1.3"/>
<line x1="41.1" y1="490.9" x2="43.5" y2="490.9" stroke="#1a1a1a" stroke-width="1.3"/>
<line x1="41.1" y1="477" x2="45.3" y2="477" stroke="#1a1a1a" stroke-width="1.3"/>
<line x1="41.1" y1="463.1" x2="43.5" y2="463.1" stroke="#1a1a1a" stroke-width="1.3"/>
<line x1="263.5" y1="619.57" x2="261.1" y2="619.57" stroke="#1a1a1a" stroke-width="1.3"/>
<line x1="263.5" y1="609" x2="259.3" y2="609" stroke="#1a1a1a" stroke-width="1.3"/>
<line x1="263.5" y1="598.43" x2="261.1" y2="598.43" stroke="#1a1a1a" stroke-width="1.3"/>
<line x1="263.5" y1="587.86" x2="259.3" y2="587.86" stroke="#1a1a1a" stroke-width="1.3"/>
<line x1="263.5" y1="577.29" x2="261.1" y2="577.29" stroke="#1a1a1a" stroke-width="1.3"/>
<line x1="263.5" y1="566.72" x2="259.3" y2="566.72" stroke="#1a1a1a" stroke-width="1.3"/>
<line x1="263.5" y1="556.15" x2="261.1" y2="556.15" stroke="#1a1a1a" stroke-width="1.3"/>
<line x1="263.5" y1="545.58" x2="259.3" y2="545.58" stroke="#1a1a1a" stroke-width="1.3"/>
<line x1="263.5" y1="535.01" x2="261.1" y2="535.01" stroke="#1a1a1a" stroke-width="1.3"/>
<line x1="263.5" y1="524.44" x2="259.3" y2="524.44" stroke="#1a1a1a" stroke-width="1.3"/>
<line x1="263.5" y1="513.87" x2="261.1" y2="513.87" stroke="#1a1a1a" stroke-width="1.3"/>
<line x1="263.5" y1="503.3" x2="259.3" y2="503.3" stroke="#1a1a1a" stroke-width="1.3"/>
<line x1="263.5" y1="492.73" x2="261.1" y2="492.73" stroke="#1a1a1a" stroke-width="1.3"/>
<line x1="263.5" y1="482.16" x2="259.3" y2="482.16" stroke="#1a1a1a" stroke-width="1.3"/>
<line x1="263.5" y1="471.59" x2="261.1" y2="471.59" stroke="#1a1a1a" stroke-width="1.3"/>
<line x1="263.5" y1="461.02" x2="259.3" y2="461.02" stroke="#1a1a1a" stroke-width="1.3"/>
<rect x="41.1" y="450.8" width="222.4" height="179.4" fill="none" stroke="#1a1a1a" stroke-width="1.4"/>
<text x="36.4" y="620" font-size="11" font-weight="bold" stroke="#1a1a1a" stroke-width="0.3" text-anchor="end" fill="#1a1a1a" textLength="15.7" lengthAdjust="spacingAndGlyphs">0.4</text>
<text x="36.4" y="592.2" font-size="11" font-weight="bold" stroke="#1a1a1a" stroke-width="0.3" text-anchor="end" fill="#1a1a1a" textLength="15.7" lengthAdjust="spacingAndGlyphs">0.6</text>
<text x="36.4" y="564.4" font-size="11" font-weight="bold" stroke="#1a1a1a" stroke-width="0.3" text-anchor="end" fill="#1a1a1a" textLength="15.7" lengthAdjust="spacingAndGlyphs">0.8</text>
<text x="36.4" y="536.6" font-size="11" font-weight="bold" stroke="#1a1a1a" stroke-width="0.3" text-anchor="end" fill="#1a1a1a" textLength="15.7" lengthAdjust="spacingAndGlyphs">1.0</text>
<text x="36.4" y="508.8" font-size="11" font-weight="bold" stroke="#1a1a1a" stroke-width="0.3" text-anchor="end" fill="#1a1a1a" textLength="15.7" lengthAdjust="spacingAndGlyphs">1.2</text>
<text x="36.4" y="481" font-size="11" font-weight="bold" stroke="#1a1a1a" stroke-width="0.3" text-anchor="end" fill="#1a1a1a" textLength="15.7" lengthAdjust="spacingAndGlyphs">1.4</text>
<text x="269.3" y="612.7" font-size="11" font-weight="bold" stroke="#1a1a1a" stroke-width="0.3" fill="#1a1a1a" textLength="6" lengthAdjust="spacingAndGlyphs">0</text>
<text x="267.6" y="591.56" font-size="11" font-weight="bold" stroke="#1a1a1a" stroke-width="0.3" fill="#1a1a1a" textLength="12.3" lengthAdjust="spacingAndGlyphs">10</text>
<text x="267.6" y="570.42" font-size="11" font-weight="bold" stroke="#1a1a1a" stroke-width="0.3" fill="#1a1a1a" textLength="12.3" lengthAdjust="spacingAndGlyphs">20</text>
<text x="267.6" y="549.28" font-size="11" font-weight="bold" stroke="#1a1a1a" stroke-width="0.3" fill="#1a1a1a" textLength="12.3" lengthAdjust="spacingAndGlyphs">30</text>
<text x="267.6" y="528.14" font-size="11" font-weight="bold" stroke="#1a1a1a" stroke-width="0.3" fill="#1a1a1a" textLength="12.3" lengthAdjust="spacingAndGlyphs">40</text>
<text x="267.6" y="507" font-size="11" font-weight="bold" stroke="#1a1a1a" stroke-width="0.3" fill="#1a1a1a" textLength="12.3" lengthAdjust="spacingAndGlyphs">50</text>
<text x="267.6" y="485.86" font-size="11" font-weight="bold" stroke="#1a1a1a" stroke-width="0.3" fill="#1a1a1a" textLength="12.3" lengthAdjust="spacingAndGlyphs">60</text>
<text x="267.6" y="464.72" font-size="11" font-weight="bold" stroke="#1a1a1a" stroke-width="0.3" fill="#1a1a1a" textLength="12.3" lengthAdjust="spacingAndGlyphs">70</text>
<text x="64.4" y="642.7" font-size="11" font-weight="bold" stroke="#1a1a1a" stroke-width="0.3" text-anchor="middle" fill="#1a1a1a" textLength="6.6" lengthAdjust="spacingAndGlyphs">0</text>
<text x="89.45" y="642.7" font-size="11" font-weight="bold" stroke="#1a1a1a" stroke-width="0.3" text-anchor="middle" fill="#1a1a1a" textLength="13.2" lengthAdjust="spacingAndGlyphs">20</text>
<text x="114.5" y="642.7" font-size="11" font-weight="bold" stroke="#1a1a1a" stroke-width="0.3" text-anchor="middle" fill="#1a1a1a" textLength="13.2" lengthAdjust="spacingAndGlyphs">40</text>
<text x="139.55" y="642.7" font-size="11" font-weight="bold" stroke="#1a1a1a" stroke-width="0.3" text-anchor="middle" fill="#1a1a1a" textLength="13.2" lengthAdjust="spacingAndGlyphs">60</text>
<text x="164.6" y="642.7" font-size="11" font-weight="bold" stroke="#1a1a1a" stroke-width="0.3" text-anchor="middle" fill="#1a1a1a" textLength="13.2" lengthAdjust="spacingAndGlyphs">80</text>
<text x="189.65" y="642.7" font-size="11" font-weight="bold" stroke="#1a1a1a" stroke-width="0.3" text-anchor="middle" fill="#1a1a1a" textLength="19.6" lengthAdjust="spacingAndGlyphs">100</text>
<text x="214.7" y="642.7" font-size="11" font-weight="bold" stroke="#1a1a1a" stroke-width="0.3" text-anchor="middle" fill="#1a1a1a" textLength="19.6" lengthAdjust="spacingAndGlyphs">120</text>
<text x="239.75" y="642.7" font-size="11" font-weight="bold" stroke="#1a1a1a" stroke-width="0.3" text-anchor="middle" fill="#1a1a1a" textLength="19.6" lengthAdjust="spacingAndGlyphs">140</text>
<text x="12.2" y="538.5" font-size="15.3" font-weight="bold" stroke="#1a1a1a" stroke-width="0.3" text-anchor="middle" fill="#1a1a1a" textLength="80" lengthAdjust="spacingAndGlyphs" transform="rotate(-90 12.2 538.5)"><tspan font-style="italic">E</tspan> vs. Zn / V</text>
<text x="295" y="543.3" font-size="15.3" font-weight="bold" stroke="#1a1a1a" stroke-width="0.3" text-anchor="middle" fill="#1a1a1a" textLength="83.7" lengthAdjust="spacingAndGlyphs" transform="rotate(-90 295 543.3)"><tspan font-style="italic">P</tspan> / mW cm<tspan font-size="7.8" dy="-6.6">-2</tspan></text>
<text x="143.3" y="663" font-size="14.8" font-weight="bold" stroke="#1a1a1a" stroke-width="0.3" text-anchor="middle" fill="#1a1a1a" textLength="76.3" lengthAdjust="spacingAndGlyphs"><tspan font-style="italic">j</tspan> / mA cm<tspan font-size="7.8" dy="-6.6">-2</tspan></text>
<text x="8.2" y="463.8" font-size="20.3" font-weight="bold" stroke="#1a1a1a" stroke-width="0.3" fill="#1a1a1a" textLength="24" lengthAdjust="spacingAndGlyphs">(e)</text>
<g fill="#0c0303" stroke="#6e1616" stroke-width="0.6">
<circle cx="62.6" cy="474.2" r="2.2"/>
<circle cx="63.4" cy="481.6" r="2.2"/>
<circle cx="63.8" cy="488.5" r="2.2"/>
<circle cx="64.8" cy="495.8" r="2.2"/>
<circle cx="67.9" cy="503.1" r="2.2"/>
<circle cx="73.6" cy="510.2" r="2.2"/>
<circle cx="80.7" cy="517.4" r="2.2"/>
<circle cx="88" cy="524.5" r="2.2"/>
<circle cx="97.5" cy="531.9" r="2.2"/>
<circle cx="107" cy="539.1" r="2.2"/>
<circle cx="116" cy="545.8" r="2.2"/>
<circle cx="126.1" cy="553.6" r="2.2"/>
<circle cx="136.8" cy="560.7" r="2.2"/>
<circle cx="147.7" cy="567.7" r="2.2"/>
<circle cx="159" cy="575" r="2.2"/>
<circle cx="170.5" cy="582.4" r="2.2"/>
<circle cx="182.3" cy="589.4" r="2.2"/>
<circle cx="194" cy="596.8" r="2.2"/>
<circle cx="205.7" cy="604" r="2.2"/>
<circle cx="217.2" cy="611" r="2.2"/>
</g>
<g fill="#0c0303" stroke="#6e1616" stroke-width="0.6">
<circle cx="64.1" cy="608.3" r="2.2"/>
<circle cx="68.9" cy="599.5" r="2.2"/>
<circle cx="74.8" cy="588.1" r="2.2"/>
<circle cx="81.4" cy="576.4" r="2.2"/>
<circle cx="89.2" cy="564" r="2.2"/>
<circle cx="98.6" cy="549.7" r="2.2"/>
<circle cx="116.9" cy="527.3" r="2.2"/>
<circle cx="127.3" cy="516.6" r="2.2"/>
<circle cx="138.2" cy="507.5" r="2.2"/>
<circle cx="148.9" cy="499.9" r="2.2"/>
<circle cx="160.1" cy="493.6" r="2.2"/>
<circle cx="171.7" cy="488.9" r="2.2"/>
<circle cx="183.7" cy="486.6" r="2.2"/>
<circle cx="195.2" cy="486.3" r="2.2"/>
<circle cx="206.9" cy="487.4" r="2.2"/>
<circle cx="218.6" cy="491.1" r="2.2"/>
</g>
<g fill="#f01216">
<circle cx="64.5" cy="493.9" r="2.45"/>
<circle cx="64.5" cy="500.2" r="2.45"/>
<circle cx="65" cy="506.4" r="2.45"/>
<circle cx="67" cy="512.4" r="2.45"/>
<circle cx="67.9" cy="518.5" r="2.45"/>
<circle cx="72.6" cy="524.7" r="2.45"/>
<circle cx="75.5" cy="530.6" r="2.45"/>
<circle cx="78.5" cy="536.8" r="2.45"/>
<circle cx="82.1" cy="542.7" r="2.45"/>
<circle cx="85.5" cy="548.9" r="2.45"/>
<circle cx="89" cy="555.1" r="2.45"/>
<circle cx="92.8" cy="561.4" r="2.45"/>
<circle cx="96.6" cy="567.5" r="2.45"/>
<circle cx="100.8" cy="573.4" r="2.45"/>
<circle cx="104.9" cy="579.4" r="2.45"/>
<circle cx="108.8" cy="585.6" r="2.45"/>
<circle cx="112.9" cy="591.8" r="2.45"/>
<circle cx="117" cy="597.8" r="2.45"/>
<circle cx="121.3" cy="603.9" r="2.45"/>
<circle cx="125.4" cy="610.2" r="2.45"/>
</g>
<g fill="#f01216">
<circle cx="64.1" cy="607.6" r="2.45"/>
<circle cx="66.5" cy="604.5" r="2.45"/>
<circle cx="68.2" cy="601.7" r="2.45"/>
<circle cx="70.4" cy="598.1" r="2.45"/>
<circle cx="73.6" cy="592.5" r="2.45"/>
<circle cx="77" cy="587.1" r="2.45"/>
<circle cx="81.4" cy="581.6" r="2.45"/>
<circle cx="85.5" cy="576.1" r="2.45"/>
<circle cx="89.9" cy="570.6" r="2.45"/>
<circle cx="94.6" cy="565.6" r="2.45"/>
<circle cx="99.4" cy="561.8" r="2.45"/>
<circle cx="104.4" cy="558.2" r="2.45"/>
<circle cx="109.3" cy="555.2" r="2.45"/>
<circle cx="114.1" cy="553" r="2.45"/>
<circle cx="119.5" cy="551.1" r="2.45"/>
<circle cx="125" cy="550" r="2.45"/>
<circle cx="130.1" cy="549.7" r="2.45"/>
<circle cx="135.4" cy="550.1" r="2.45"/>
<circle cx="140.8" cy="551.4" r="2.45"/>
</g>
<text x="166.6" y="478.6" font-size="11.7" fill="#262626" textLength="72.6" lengthAdjust="spacingAndGlyphs">before cycling</text>
<text x="127.6" y="543.8" font-size="11.7" fill="#ee2226" textLength="62.9" lengthAdjust="spacingAndGlyphs">after cycling</text>
<text x="192.7" y="624.6" font-size="14.8" font-weight="bold" stroke="#1a1a1a" stroke-width="0.3" fill="#1a1a1a" textLength="63.6" lengthAdjust="spacingAndGlyphs">FeNi-N-C</text>
</g>
<g id="panel-b">
<path d="M359.4 130.3V64.1Q359.4 63.6 359.9 61.9L361.1 58.2Q361.7 56.4 361.7 57V159.8Q361.7 160.8 362.6 160.4L363 160.2Q364 159.8 364 158.9V47.1Q364 46.5 364.5 44.9L365.7 41.3Q366.3 39.7 366.3 40.2V165.4Q366.3 166.3 367.2 165.9L367.6 165.8Q368.5 165.3 368.5 164.4V41.7Q368.5 41.1 369.1 39.9L370.3 37.2Q370.8 35.9 370.8 36.5V170.9Q370.8 171.9 371.8 171.5L372.2 171.3Q373.1 170.9 373.1 169.9V39.4Q373.1 38.9 373.7 37.7L374.8 35.1Q375.4 34 375.4 34.5V173.2Q375.4 174.1 376.3 173.7L376.7 173.6Q377.7 173.2 377.7 172.2V36.8Q377.7 36.2 378.2 35.2L379.4 32.8Q380 31.7 380 32.2V173.4Q380 174.3 380.9 174L381.3 173.8Q382.2 173.5 382.2 172.5V35.2Q382.2 34.6 382.8 33.6L384 31.5Q384.5 30.5 384.5 31.1V173.4Q384.5 174.3 385.5 174L385.9 173.8Q386.8 173.5 386.8 172.5V30Q386.8 29.4 387.4 28.9L388.5 27.7Q389.1 27.1 389.1 27.7V173.4Q389.1 174.3 390 174L390.4 173.8Q391.4 173.5 391.4 172.5V26.7Q391.4 26.2 391.9 26.2L393.1 26.2Q393.7 26.2 393.7 26.7V173.4Q393.7 174.3 394.6 174L395 173.8Q396 173.5 396 172.5V26.7Q396 26.1 396.5 26.1L397.7 26.1Q398.2 26.1 398.2 26.7V173.4Q398.2 174.3 399.2 174L399.6 173.8Q400.5 173.5 400.5 172.5V26.7Q400.5 26.1 401.1 26.1L402.3 26.1Q402.8 26.1 402.8 26.7V173.4Q402.8 174.3 403.8 174L404.1 173.8Q405.1 173.5 405.1 172.5V26.6Q405.1 26.1 405.6 26.1L406.8 26.1Q407.4 26.1 407.4 26.6V173.4Q407.4 174.3 408.3 174L408.7 173.8Q409.7 173.5 409.7 172.5V26.6Q409.7 26.1 410.2 26.1L411.4 26.1Q411.9 26.1 411.9 26.6V173.4Q411.9 174.3 412.9 174L413.3 173.8Q414.2 173.5 414.2 172.5V26.6Q414.2 26 414.8 26L416 26Q416.5 26 416.5 26.6V173.4Q416.5 174.3 417.5 174L417.8 173.8Q418.8 173.5 418.8 172.5V26.5Q418.8 26 419.3 26L420.5 26Q421.1 26 421.1 26.5V173.4Q421.1 174.3 422 174L422.4 173.8Q423.4 173.5 423.4 172.5V26.5Q423.4 26 423.9 26L425.1 26Q425.7 26 425.7 26.5V173.4Q425.7 174.3 426.6 174L427 173.8Q427.9 173.5 427.9 172.5V26.5Q427.9 25.9 428.5 25.9L429.7 25.9Q430.2 25.9 430.2 26.5V173.4Q430.2 174.3 431.2 174L431.6 173.8Q432.5 173.5 432.5 172.5V26.5Q432.5 25.9 433.1 25.9L434.2 25.9Q434.8 25.9 434.8 26.5V173.4Q434.8 174.3 435.7 174L436.1 173.8Q437.1 173.5 437.1 172.5V26.4Q437.1 25.9 437.6 25.9L438.8 25.9Q439.4 25.9 439.4 26.4V173.4Q439.4 174.3 440.3 174L440.7 173.8Q441.6 173.5 441.6 172.5V26.4Q441.6 25.8 442.2 25.8L443.4 25.8Q443.9 25.8 443.9 26.4V173.4Q443.9 174.3 444.9 174L445.3 173.8Q446.2 173.5 446.2 172.5V26.4Q446.2 25.8 446.8 25.8L447.9 25.8Q448.5 25.8 448.5 26.4V173.4Q448.5 174.3 449.4 174L449.8 173.8Q450.8 173.5 450.8 172.5V26.3Q450.8 25.8 451.3 25.8L452.5 25.8Q453.1 25.8 453.1 26.3V173.4Q453.1 174.3 454 174L454.4 173.8Q455.4 173.5 455.4 172.5V26.3Q455.4 25.8 455.9 25.8L457.1 25.8Q457.6 25.8 457.6 26.3V173.4Q457.6 174.3 458.6 174L459 173.8Q459.9 173.5 459.9 172.5V26.3Q459.9 25.7 460.5 25.7L461.7 25.7Q462.2 25.7 462.2 26.3V173.4Q462.2 174.3 463.2 174L463.5 173.8Q464.5 173.5 464.5 172.5V26.3Q464.5 25.7 465 25.7L466.2 25.7Q466.8 25.7 466.8 26.3V173.4Q466.8 174.3 467.7 174L468.1 173.8Q469.1 173.5 469.1 172.5V26.2Q469.1 25.7 469.6 25.7L470.8 25.7Q471.3 25.7 471.3 26.2V173.4Q471.3 174.3 472.3 174L472.7 173.8Q473.6 173.5 473.6 172.5V26.2Q473.6 25.6 474.2 25.6L475.4 25.6Q475.9 25.6 475.9 26.2V173.4Q475.9 174.3 476.9 174L477.3 173.8Q478.2 173.5 478.2 172.5V26.2Q478.2 25.6 478.8 25.6L479.9 25.6Q480.5 25.6 480.5 26.2V173.4Q480.5 174.3 481.4 174L481.8 173.8Q482.8 173.5 482.8 172.5V26.1Q482.8 25.6 483.3 25.6L484.5 25.6Q485.1 25.6 485.1 26.1V173.4Q485.1 174.3 486 174L486.4 173.8Q487.3 173.5 487.3 172.5V26.1Q487.3 25.6 487.9 25.6L489.1 25.6Q489.6 25.6 489.6 26.1V173.4Q489.6 174.3 490.6 174L491 173.8Q491.9 173.5 491.9 172.5V26.1Q491.9 25.5 492.5 25.5L493.6 25.5Q494.2 25.5 494.2 26.1V173.4Q494.2 174.3 495.1 174L495.5 173.8Q496.5 173.5 496.5 172.5V26.1Q496.5 25.5 497 25.5L498.2 25.5Q498.8 25.5 498.8 26.1V173.3Q498.8 174.3 499.7 174L500.1 173.8Q501 173.5 501 172.5V26Q501 25.5 501.6 25.5L502.8 25.5Q503.3 25.5 503.3 26V173.3Q503.3 174.3 504.3 173.9L504.7 173.8Q505.6 173.4 505.6 172.5V26Q505.6 25.4 506.2 25.4L507.4 25.4Q507.9 25.4 507.9 26V173.3Q507.9 174.2 508.9 173.9L509.2 173.7Q510.2 173.4 510.2 172.4V25.9Q510.2 25.4 510.7 25.4L511.9 25.4Q512.5 25.4 512.5 25.9V173.2Q512.5 174.2 513.4 173.8L513.8 173.7Q514.8 173.3 514.8 172.4V25.9Q514.8 25.3 515.3 25.3L516.5 25.3Q517 25.3 517 25.9V173.2Q517 174.1 518 173.8L518.4 173.6Q519.3 173.3 519.3 172.3V25.8Q519.3 25.3 519.9 25.3L521.1 25.3Q521.6 25.3 521.6 25.8V173.1Q521.6 174.1 522.6 173.7L522.9 173.6Q523.9 173.2 523.9 172.3V25.8Q523.9 25.2 524.4 25.2L525.6 25.2Q526.2 25.2 526.2 25.8V173.1Q526.2 174 527.1 173.7L527.5 173.5Q528.5 173.2 528.5 172.2V25.7Q528.5 25.2 529 25.2L530.2 25.2Q530.7 25.2 530.7 25.7V173Q530.7 174 531.7 173.6L532.1 173.5Q533 173.1 533 172.2V25.7Q533 25.1 533.6 25.1L534.8 25.1Q535.3 25.1 535.3 25.7V173Q535.3 173.9 536.3 173.6L536.7 173.4Q537.6 173.1 537.6 172.1V25.6Q537.6 25.1 538.2 25.1L539.3 25.1Q539.9 25.1 539.9 25.6V172.9Q539.9 173.9 540.8 173.5L541.2 173.4Q542.2 173 542.2 172.1V25.6Q542.2 25 542.7 25L543.9 25Q544.5 25 544.5 25.6V172.9Q544.5 173.8 545.4 173.5L545.8 173.3Q546.7 173 546.7 172V25.5Q546.7 25 547.3 25L548.5 25Q549 25 549 25.5V172.8Q549 173.8 550 173.4L550.4 173.3Q551.3 172.9 551.3 172V25.5Q551.3 24.9 551.9 24.9L553 24.9Q553.6 24.9 553.6 25.5V172.8Q553.6 173.7 554.5 173.4L554.9 173.2Q555.9 172.9 555.9 171.9V25.4Q555.9 24.9 556.4 24.9L557.6 24.9Q558.2 24.9 558.2 25.4V172.7Q558.2 173.7 559.1 173.3L559.5 173.2Q560.4 172.9 560.4 171.9V25.4Q560.4 24.8 561 24.8L562.2 24.8Q562.7 24.8 562.7 25.4V172.7Q562.7 173.6 563.7 173.3L564.1 173.1Q565 172.8 565 171.9V25.4Q565 24.8 565.6 24.8L566.8 24.8Q567.3 24.8 567.3 25.4V172.6Q567.3 173.6 568.3 173.2L568.6 173.1Q569.6 172.8 569.6 171.8V25.3Q569.6 24.8 570.1 24.8L571.3 24.8Q571.9 24.8 571.9 25.3V172.6Q571.9 173.5 572.8 173.2L573.2 173Q574.2 172.7 574.2 171.8V25.3Q574.2 24.7 574.7 24.7L575.9 24.7Q576.4 24.7 576.4 25.3V172.5Q576.4 173.5 577.4 173.1L577.8 173Q578.7 172.7 578.7 171.7V25.2Q578.7 24.7 579.3 24.7L580.5 24.7Q581 24.7 581 25.2V172.5Q581 173.4 582 173.1L582.3 172.9Q583.3 172.6 583.3 171.7V25.2Q583.3 24.6 583.8 24.6L585 24.6Q585.6 24.6 585.6 25.2V172.4Q585.6 173.4 586.5 173L586.9 172.9Q587.9 172.6 587.9 171.6V25.1Q587.9 24.6 588.4 24.6L589.6 24.6Q590.1 24.6 590.1 25.1V172.4Q590.1 173.3 591.1 173L591.5 172.8Q592.4 172.5 592.4 171.6V25.1Q592.4 24.5 593 24.5L594.2 24.5Q594.7 24.5 594.7 25.1V172.3Q594.7 173.3 595.7 172.9L596.1 172.8Q597 172.5 597 171.5V25Q597 24.5 597.6 24.5L598.7 24.5Q599.3 24.5 599.3 25V172.3Q599.3 173.2 600.2 172.9L600.6 172.7Q601.6 172.4 601.6 171.5V25Q601.6 24.4 602.1 24.4L603.3 24.4Q603.9 24.4 603.9 25V172.2Q603.9 173.2 604.8 172.8L605.2 172.7Q606.1 172.4 606.1 171.4V24.9Q606.1 24.4 606.7 24.4L607.9 24.4Q608.4 24.4 608.4 24.9V172.2Q608.4 173.1 609.4 172.8L609.8 172.7Q610.7 172.3 610.7 171.4V24.9Q610.7 24.3 611.3 24.3L612.4 24.3Q613 24.3 613 24.9V172.1Q613 173.1 613.9 172.7L614.3 172.6Q615.3 172.3 615.3 171.3V24.8Q615.3 24.3 615.8 24.3L617 24.3Q617.6 24.3 617.6 24.8V172.1Q617.6 173 618.5 172.7L618.9 172.6Q619.8 172.2 619.8 171.3V24.8Q619.8 24.2 620.4 24.2L621.6 24.2Q622.1 24.2 622.1 24.8V172Q622.1 173 623.1 172.6L623.5 172.5Q624.4 172.2 624.4 171.2V24.7Q624.4 24.2 625 24.2L626.2 24.2Q626.7 24.2 626.7 24.7V172Q626.7 172.9 627.7 172.6L628 172.5Q629 172.1 629 171.2V24.7Q629 24.2 629.5 24.2L630.7 24.2Q631.3 24.2 631.3 24.7V171.9Q631.3 172.9 632.2 172.5L632.6 172.4Q633.6 172.1 633.6 171.1V24.7Q633.6 24.1 634.1 24.1L635.3 24.1Q635.8 24.1 635.8 24.7V171.9Q635.8 172.8 636.8 172.5L637.2 172.4Q638.1 172 638.1 171.1V24.6Q638.1 24.1 638.7 24.1L639.9 24.1Q640.4 24.1 640.4 24.6V171.8Q640.4 172.8 641.4 172.4L641.7 172.3Q642.7 172 642.7 171V24.6Q642.7 24 643.2 24L644.4 24Q645 24 645 24.6V171.8Q645 172.7 645.9 172.4L646.3 172.2Q647.3 171.9 647.3 170.9V24.5Q647.3 24 647.8 24L649 24Q649.6 24 649.6 24.5V171.7Q649.6 172.6 650.5 172.3L650.9 172.2Q651.8 171.8 651.8 170.9V24.5Q651.8 24 652.4 24L653.6 24Q654.1 24 654.1 24.5V171.6Q654.1 172.6 655.1 172.2L655.5 172.1Q656.4 171.8 656.4 170.8V24.5Q656.4 23.9 657 23.9L658.1 23.9Q658.7 23.9 658.7 24.5V171.6Q658.7 172.5 659.6 172.2L660 172Q661 171.7 661 170.7V24.5Q661 23.9 661.5 23.9L662.7 23.9Q663.3 23.9 663.3 24.5V171.5Q663.3 172.4 664.2 172.1L664.6 172Q665.5 171.6 665.5 170.7V24.4Q665.5 23.9 666.1 23.9L667.3 23.9Q667.8 23.9 667.8 24.4V171.4Q667.8 172.4 668.8 172L669.2 171.9Q670.1 171.6 670.1 170.6V24.4Q670.1 23.9 670.7 23.9L671.8 23.9Q672.4 23.9 672.4 24.4V171.4Q672.4 172.3 673.3 172L673.7 171.8Q674.7 171.5 674.7 170.6V24.4Q674.7 23.8 675.2 23.8L676.4 23.8Q677 23.8 677 24.4V171.3Q677 172.3 677.9 171.9L678.3 171.8Q679.3 171.4 679.3 170.5V24.4Q679.3 23.8 679.8 23.8L681 23.8Q681.5 23.8 681.5 24.4V171.2Q681.5 172.2 682.5 171.9L682.9 171.7Q683.8 171.4 683.8 170.4V24.3Q683.8 23.8 684.4 23.8L685.6 23.8Q686.1 23.8 686.1 24.3V171.2Q686.1 172.1 687.1 171.8L687.4 171.7Q688.4 171.3 688.4 170.4V24.3Q688.4 23.8 688.9 23.8L690.1 23.8Q690.7 23.8 690.7 24.3V171.1Q690.7 172.1 691.6 171.7L692 171.6Q693 171.2 693 170.3V24.3Q693 23.7 693.5 23.7L694.7 23.7Q695.2 23.7 695.2 24.3V171Q695.2 172 696.2 171.7L696.6 171.5Q697.5 171.2 697.5 170.2V23.9Q697.5 23.4 698.1 25.2L699.3 29.2Q699.8 31 699.8 31.6V171Q699.8 171.9 700.8 171.6L701.1 171.5Q702.1 171.1 702.1 170.2V23.1Q702.1 22.5 702.6 22.5L703.8 22.5Q704.4 22.5 704.4 23.1V170.9Q704.4 171.9 705.3 171.5L705.7 171.4Q706.7 171.1 706.7 170.1V24.5Q706.7 24 707.2 24.4L708.4 25.2Q709 25.6 709 26.2V170.9Q709 171.8 709.9 171.5L710.3 171.3Q711.2 171 711.2 170V23Q711.2 22.5 711.8 22.5L713 22.5Q713.5 22.5 713.5 23V170.8Q713.5 171.7 714.5 171.4L714.9 171.3Q715.8 170.9 715.8 170V24.5Q715.8 23.9 716.4 24.3L717.5 25.2Q718.1 25.6 718.1 26.1V170.7Q718.1 171.7 719 171.3L719.4 171.2Q720.4 170.9 720.4 169.9V23Q720.4 22.4 720.9 22.4L722.1 22.4Q722.7 22.4 722.7 23V170.7Q722.7 171.6 723.6 171.3L724.3 170.8" fill="none" stroke="#202020" stroke-width="1.1" stroke-linejoin="round" filter="url(#soft)"/>
<line x1="359.4" y1="184.1" x2="359.4" y2="180.2" stroke="#1a1a1a" stroke-width="1.25"/>
<line x1="359.4" y1="5.6" x2="359.4" y2="9.5" stroke="#1a1a1a" stroke-width="1.25"/>
<line x1="366.26" y1="184.1" x2="366.26" y2="181.9" stroke="#1a1a1a" stroke-width="1.25"/>
<line x1="366.26" y1="5.6" x2="366.26" y2="7.8" stroke="#1a1a1a" stroke-width="1.25"/>
<line x1="373.12" y1="184.1" x2="373.12" y2="181.9" stroke="#1a1a1a" stroke-width="1.25"/>
<line x1="373.12" y1="5.6" x2="373.12" y2="7.8" stroke="#1a1a1a" stroke-width="1.25"/>
<line x1="379.98" y1="184.1" x2="379.98" y2="181.9" stroke="#1a1a1a" stroke-width="1.25"/>
<line x1="379.98" y1="5.6" x2="379.98" y2="7.8" stroke="#1a1a1a" stroke-width="1.25"/>
<line x1="386.84" y1="184.1" x2="386.84" y2="181.9" stroke="#1a1a1a" stroke-width="1.25"/>
<line x1="386.84" y1="5.6" x2="386.84" y2="7.8" stroke="#1a1a1a" stroke-width="1.25"/>
<line x1="393.7" y1="184.1" x2="393.7" y2="180.2" stroke="#1a1a1a" stroke-width="1.25"/>
<line x1="393.7" y1="5.6" x2="393.7" y2="9.5" stroke="#1a1a1a" stroke-width="1.25"/>
<line x1="400.56" y1="184.1" x2="400.56" y2="181.9" stroke="#1a1a1a" stroke-width="1.25"/>
<line x1="400.56" y1="5.6" x2="400.56" y2="7.8" stroke="#1a1a1a" stroke-width="1.25"/>
<line x1="407.42" y1="184.1" x2="407.42" y2="181.9" stroke="#1a1a1a" stroke-width="1.25"/>
<line x1="407.42" y1="5.6" x2="407.42" y2="7.8" stroke="#1a1a1a" stroke-width="1.25"/>
<line x1="414.28" y1="184.1" x2="414.28" y2="181.9" stroke="#1a1a1a" stroke-width="1.25"/>
<line x1="414.28" y1="5.6" x2="414.28" y2="7.8" stroke="#1a1a1a" stroke-width="1.25"/>
<line x1="421.14" y1="184.1" x2="421.14" y2="181.9" stroke="#1a1a1a" stroke-width="1.25"/>
<line x1="421.14" y1="5.6" x2="421.14" y2="7.8" stroke="#1a1a1a" stroke-width="1.25"/>
<line x1="428" y1="184.1" x2="428" y2="180.2" stroke="#1a1a1a" stroke-width="1.25"/>
<line x1="428" y1="5.6" x2="428" y2="9.5" stroke="#1a1a1a" stroke-width="1.25"/>
<line x1="434.86" y1="184.1" x2="434.86" y2="181.9" stroke="#1a1a1a" stroke-width="1.25"/>
<line x1="434.86" y1="5.6" x2="434.86" y2="7.8" stroke="#1a1a1a" stroke-width="1.25"/>
<line x1="441.72" y1="184.1" x2="441.72" y2="181.9" stroke="#1a1a1a" stroke-width="1.25"/>
<line x1="441.72" y1="5.6" x2="441.72" y2="7.8" stroke="#1a1a1a" stroke-width="1.25"/>
<line x1="448.58" y1="184.1" x2="448.58" y2="181.9" stroke="#1a1a1a" stroke-width="1.25"/>
<line x1="448.58" y1="5.6" x2="448.58" y2="7.8" stroke="#1a1a1a" stroke-width="1.25"/>
<line x1="455.44" y1="184.1" x2="455.44" y2="181.9" stroke="#1a1a1a" stroke-width="1.25"/>
<line x1="455.44" y1="5.6" x2="455.44" y2="7.8" stroke="#1a1a1a" stroke-width="1.25"/>
<line x1="462.3" y1="184.1" x2="462.3" y2="180.2" stroke="#1a1a1a" stroke-width="1.25"/>
<line x1="462.3" y1="5.6" x2="462.3" y2="9.5" stroke="#1a1a1a" stroke-width="1.25"/>
<line x1="469.16" y1="184.1" x2="469.16" y2="181.9" stroke="#1a1a1a" stroke-width="1.25"/>
<line x1="469.16" y1="5.6" x2="469.16" y2="7.8" stroke="#1a1a1a" stroke-width="1.25"/>
<line x1="476.02" y1="184.1" x2="476.02" y2="181.9" stroke="#1a1a1a" stroke-width="1.25"/>
<line x1="476.02" y1="5.6" x2="476.02" y2="7.8" stroke="#1a1a1a" stroke-width="1.25"/>
<line x1="482.88" y1="184.1" x2="482.88" y2="181.9" stroke="#1a1a1a" stroke-width="1.25"/>
<line x1="482.88" y1="5.6" x2="482.88" y2="7.8" stroke="#1a1a1a" stroke-width="1.25"/>
<line x1="489.74" y1="184.1" x2="489.74" y2="181.9" stroke="#1a1a1a" stroke-width="1.25"/>
<line x1="489.74" y1="5.6" x2="489.74" y2="7.8" stroke="#1a1a1a" stroke-width="1.25"/>
<line x1="496.6" y1="184.1" x2="496.6" y2="180.2" stroke="#1a1a1a" stroke-width="1.25"/>
<line x1="496.6" y1="5.6" x2="496.6" y2="9.5" stroke="#1a1a1a" stroke-width="1.25"/>
<line x1="503.46" y1="184.1" x2="503.46" y2="181.9" stroke="#1a1a1a" stroke-width="1.25"/>
<line x1="503.46" y1="5.6" x2="503.46" y2="7.8" stroke="#1a1a1a" stroke-width="1.25"/>
<line x1="510.32" y1="184.1" x2="510.32" y2="181.9" stroke="#1a1a1a" stroke-width="1.25"/>
<line x1="510.32" y1="5.6" x2="510.32" y2="7.8" stroke="#1a1a1a" stroke-width="1.25"/>
<line x1="517.18" y1="184.1" x2="517.18" y2="181.9" stroke="#1a1a1a" stroke-width="1.25"/>
<line x1="517.18" y1="5.6" x2="517.18" y2="7.8" stroke="#1a1a1a" stroke-width="1.25"/>
<line x1="524.04" y1="184.1" x2="524.04" y2="181.9" stroke="#1a1a1a" stroke-width="1.25"/>
<line x1="524.04" y1="5.6" x2="524.04" y2="7.8" stroke="#1a1a1a" stroke-width="1.25"/>
<line x1="530.9" y1="184.1" x2="530.9" y2="180.2" stroke="#1a1a1a" stroke-width="1.25"/>
<line x1="530.9" y1="5.6" x2="530.9" y2="9.5" stroke="#1a1a1a" stroke-width="1.25"/>
<line x1="537.76" y1="184.1" x2="537.76" y2="181.9" stroke="#1a1a1a" stroke-width="1.25"/>
<line x1="537.76" y1="5.6" x2="537.76" y2="7.8" stroke="#1a1a1a" stroke-width="1.25"/>
<line x1="544.62" y1="184.1" x2="544.62" y2="181.9" stroke="#1a1a1a" stroke-width="1.25"/>
<line x1="544.62" y1="5.6" x2="544.62" y2="7.8" stroke="#1a1a1a" stroke-width="1.25"/>
<line x1="551.48" y1="184.1" x2="551.48" y2="181.9" stroke="#1a1a1a" stroke-width="1.25"/>
<line x1="551.48" y1="5.6" x2="551.48" y2="7.8" stroke="#1a1a1a" stroke-width="1.25"/>
<line x1="558.34" y1="184.1" x2="558.34" y2="181.9" stroke="#1a1a1a" stroke-width="1.25"/>
<line x1="558.34" y1="5.6" x2="558.34" y2="7.8" stroke="#1a1a1a" stroke-width="1.25"/>
<line x1="565.2" y1="184.1" x2="565.2" y2="180.2" stroke="#1a1a1a" stroke-width="1.25"/>
<line x1="565.2" y1="5.6" x2="565.2" y2="9.5" stroke="#1a1a1a" stroke-width="1.25"/>
<line x1="572.06" y1="184.1" x2="572.06" y2="181.9" stroke="#1a1a1a" stroke-width="1.25"/>
<line x1="572.06" y1="5.6" x2="572.06" y2="7.8" stroke="#1a1a1a" stroke-width="1.25"/>
<line x1="578.92" y1="184.1" x2="578.92" y2="181.9" stroke="#1a1a1a" stroke-width="1.25"/>
<line x1="578.92" y1="5.6" x2="578.92" y2="7.8" stroke="#1a1a1a" stroke-width="1.25"/>
<line x1="585.78" y1="184.1" x2="585.78" y2="181.9" stroke="#1a1a1a" stroke-width="1.25"/>
<line x1="585.78" y1="5.6" x2="585.78" y2="7.8" stroke="#1a1a1a" stroke-width="1.25"/>
<line x1="592.64" y1="184.1" x2="592.64" y2="181.9" stroke="#1a1a1a" stroke-width="1.25"/>
<line x1="592.64" y1="5.6" x2="592.64" y2="7.8" stroke="#1a1a1a" stroke-width="1.25"/>
<line x1="599.5" y1="184.1" x2="599.5" y2="180.2" stroke="#1a1a1a" stroke-width="1.25"/>
<line x1="599.5" y1="5.6" x2="599.5" y2="9.5" stroke="#1a1a1a" stroke-width="1.25"/>
<line x1="606.36" y1="184.1" x2="606.36" y2="181.9" stroke="#1a1a1a" stroke-width="1.25"/>
<line x1="606.36" y1="5.6" x2="606.36" y2="7.8" stroke="#1a1a1a" stroke-width="1.25"/>
<line x1="613.22" y1="184.1" x2="613.22" y2="181.9" stroke="#1a1a1a" stroke-width="1.25"/>
<line x1="613.22" y1="5.6" x2="613.22" y2="7.8" stroke="#1a1a1a" stroke-width="1.25"/>
<line x1="620.08" y1="184.1" x2="620.08" y2="181.9" stroke="#1a1a1a" stroke-width="1.25"/>
<line x1="620.08" y1="5.6" x2="620.08" y2="7.8" stroke="#1a1a1a" stroke-width="1.25"/>
<line x1="626.94" y1="184.1" x2="626.94" y2="181.9" stroke="#1a1a1a" stroke-width="1.25"/>
<line x1="626.94" y1="5.6" x2="626.94" y2="7.8" stroke="#1a1a1a" stroke-width="1.25"/>
<line x1="633.8" y1="184.1" x2="633.8" y2="180.2" stroke="#1a1a1a" stroke-width="1.25"/>
<line x1="633.8" y1="5.6" x2="633.8" y2="9.5" stroke="#1a1a1a" stroke-width="1.25"/>
<line x1="640.66" y1="184.1" x2="640.66" y2="181.9" stroke="#1a1a1a" stroke-width="1.25"/>
<line x1="640.66" y1="5.6" x2="640.66" y2="7.8" stroke="#1a1a1a" stroke-width="1.25"/>
<line x1="647.52" y1="184.1" x2="647.52" y2="181.9" stroke="#1a1a1a" stroke-width="1.25"/>
<line x1="647.52" y1="5.6" x2="647.52" y2="7.8" stroke="#1a1a1a" stroke-width="1.25"/>
<line x1="654.38" y1="184.1" x2="654.38" y2="181.9" stroke="#1a1a1a" stroke-width="1.25"/>
<line x1="654.38" y1="5.6" x2="654.38" y2="7.8" stroke="#1a1a1a" stroke-width="1.25"/>
<line x1="661.24" y1="184.1" x2="661.24" y2="181.9" stroke="#1a1a1a" stroke-width="1.25"/>
<line x1="661.24" y1="5.6" x2="661.24" y2="7.8" stroke="#1a1a1a" stroke-width="1.25"/>
<line x1="668.1" y1="184.1" x2="668.1" y2="180.2" stroke="#1a1a1a" stroke-width="1.25"/>
<line x1="668.1" y1="5.6" x2="668.1" y2="9.5" stroke="#1a1a1a" stroke-width="1.25"/>
<line x1="674.96" y1="184.1" x2="674.96" y2="181.9" stroke="#1a1a1a" stroke-width="1.25"/>
<line x1="674.96" y1="5.6" x2="674.96" y2="7.8" stroke="#1a1a1a" stroke-width="1.25"/>
<line x1="681.82" y1="184.1" x2="681.82" y2="181.9" stroke="#1a1a1a" stroke-width="1.25"/>
<line x1="681.82" y1="5.6" x2="681.82" y2="7.8" stroke="#1a1a1a" stroke-width="1.25"/>
<line x1="688.68" y1="184.1" x2="688.68" y2="181.9" stroke="#1a1a1a" stroke-width="1.25"/>
<line x1="688.68" y1="5.6" x2="688.68" y2="7.8" stroke="#1a1a1a" stroke-width="1.25"/>
<line x1="695.54" y1="184.1" x2="695.54" y2="181.9" stroke="#1a1a1a" stroke-width="1.25"/>
<line x1="695.54" y1="5.6" x2="695.54" y2="7.8" stroke="#1a1a1a" stroke-width="1.25"/>
<line x1="702.4" y1="184.1" x2="702.4" y2="180.2" stroke="#1a1a1a" stroke-width="1.25"/>
<line x1="702.4" y1="5.6" x2="702.4" y2="9.5" stroke="#1a1a1a" stroke-width="1.25"/>
<line x1="709.26" y1="184.1" x2="709.26" y2="181.9" stroke="#1a1a1a" stroke-width="1.25"/>
<line x1="709.26" y1="5.6" x2="709.26" y2="7.8" stroke="#1a1a1a" stroke-width="1.25"/>
<line x1="716.12" y1="184.1" x2="716.12" y2="181.9" stroke="#1a1a1a" stroke-width="1.25"/>
<line x1="716.12" y1="5.6" x2="716.12" y2="7.8" stroke="#1a1a1a" stroke-width="1.25"/>
<line x1="722.98" y1="184.1" x2="722.98" y2="181.9" stroke="#1a1a1a" stroke-width="1.25"/>
<line x1="722.98" y1="5.6" x2="722.98" y2="7.8" stroke="#1a1a1a" stroke-width="1.25"/>
<line x1="729.84" y1="184.1" x2="729.84" y2="181.9" stroke="#1a1a1a" stroke-width="1.25"/>
<line x1="729.84" y1="5.6" x2="729.84" y2="7.8" stroke="#1a1a1a" stroke-width="1.25"/>
<line x1="352.5" y1="167.79" x2="356.4" y2="167.79" stroke="#1a1a1a" stroke-width="1.25"/>
<line x1="736.4" y1="167.79" x2="732.5" y2="167.79" stroke="#1a1a1a" stroke-width="1.25"/>
<line x1="352.5" y1="151.51" x2="354.7" y2="151.51" stroke="#1a1a1a" stroke-width="1.25"/>
<line x1="736.4" y1="151.51" x2="734.2" y2="151.51" stroke="#1a1a1a" stroke-width="1.25"/>
<line x1="352.5" y1="135.23" x2="356.4" y2="135.23" stroke="#1a1a1a" stroke-width="1.25"/>
<line x1="736.4" y1="135.23" x2="732.5" y2="135.23" stroke="#1a1a1a" stroke-width="1.25"/>
<line x1="352.5" y1="118.95" x2="354.7" y2="118.95" stroke="#1a1a1a" stroke-width="1.25"/>
<line x1="736.4" y1="118.95" x2="734.2" y2="118.95" stroke="#1a1a1a" stroke-width="1.25"/>
<line x1="352.5" y1="102.67" x2="356.4" y2="102.67" stroke="#1a1a1a" stroke-width="1.25"/>
<line x1="736.4" y1="102.67" x2="732.5" y2="102.67" stroke="#1a1a1a" stroke-width="1.25"/>
<line x1="352.5" y1="86.39" x2="354.7" y2="86.39" stroke="#1a1a1a" stroke-width="1.25"/>
<line x1="736.4" y1="86.39" x2="734.2" y2="86.39" stroke="#1a1a1a" stroke-width="1.25"/>
<line x1="352.5" y1="70.11" x2="356.4" y2="70.11" stroke="#1a1a1a" stroke-width="1.25"/>
<line x1="736.4" y1="70.11" x2="732.5" y2="70.11" stroke="#1a1a1a" stroke-width="1.25"/>
<line x1="352.5" y1="53.83" x2="354.7" y2="53.83" stroke="#1a1a1a" stroke-width="1.25"/>
<line x1="736.4" y1="53.83" x2="734.2" y2="53.83" stroke="#1a1a1a" stroke-width="1.25"/>
<line x1="352.5" y1="37.55" x2="356.4" y2="37.55" stroke="#1a1a1a" stroke-width="1.25"/>
<line x1="736.4" y1="37.55" x2="732.5" y2="37.55" stroke="#1a1a1a" stroke-width="1.25"/>
<line x1="352.5" y1="21.27" x2="354.7" y2="21.27" stroke="#1a1a1a" stroke-width="1.25"/>
<line x1="736.4" y1="21.27" x2="734.2" y2="21.27" stroke="#1a1a1a" stroke-width="1.25"/>
<rect x="352.5" y="5.6" width="383.9" height="178.5" fill="none" stroke="#1a1a1a" stroke-width="1.3"/>
<text x="347.9" y="171.49" font-size="10.4" font-weight="bold" stroke="#1a1a1a" stroke-width="0.3" text-anchor="end" fill="#1a1a1a" textLength="15.2" lengthAdjust="spacingAndGlyphs">1.2</text>
<text x="347.9" y="138.93" font-size="10.4" font-weight="bold" stroke="#1a1a1a" stroke-width="0.3" text-anchor="end" fill="#1a1a1a" textLength="15.2" lengthAdjust="spacingAndGlyphs">1.4</text>
<text x="347.9" y="106.37" font-size="10.4" font-weight="bold" stroke="#1a1a1a" stroke-width="0.3" text-anchor="end" fill="#1a1a1a" textLength="15.2" lengthAdjust="spacingAndGlyphs">1.6</text>
<text x="347.9" y="73.81" font-size="10.4" font-weight="bold" stroke="#1a1a1a" stroke-width="0.3" text-anchor="end" fill="#1a1a1a" textLength="15.2" lengthAdjust="spacingAndGlyphs">1.8</text>
<text x="347.9" y="41.25" font-size="10.4" font-weight="bold" stroke="#1a1a1a" stroke-width="0.3" text-anchor="end" fill="#1a1a1a" textLength="15.2" lengthAdjust="spacingAndGlyphs">2.0</text>
<text x="347.9" y="8.69" font-size="10.4" font-weight="bold" stroke="#1a1a1a" stroke-width="0.3" text-anchor="end" fill="#1a1a1a" textLength="15.2" lengthAdjust="spacingAndGlyphs">2.2</text>
<text x="359.4" y="197.2" font-size="10.4" font-weight="bold" stroke="#1a1a1a" stroke-width="0.3" text-anchor="middle" fill="#1a1a1a" textLength="6.2" lengthAdjust="spacingAndGlyphs">0</text>
<text x="393.7" y="197.2" font-size="10.4" font-weight="bold" stroke="#1a1a1a" stroke-width="0.3" text-anchor="middle" fill="#1a1a1a" textLength="6.2" lengthAdjust="spacingAndGlyphs">5</text>
<text x="428" y="197.2" font-size="10.4" font-weight="bold" stroke="#1a1a1a" stroke-width="0.3" text-anchor="middle" fill="#1a1a1a" textLength="12.2" lengthAdjust="spacingAndGlyphs">10</text>
<text x="462.3" y="197.2" font-size="10.4" font-weight="bold" stroke="#1a1a1a" stroke-width="0.3" text-anchor="middle" fill="#1a1a1a" textLength="12.2" lengthAdjust="spacingAndGlyphs">15</text>
<text x="496.6" y="197.2" font-size="10.4" font-weight="bold" stroke="#1a1a1a" stroke-width="0.3" text-anchor="middle" fill="#1a1a1a" textLength="12.2" lengthAdjust="spacingAndGlyphs">20</text>
<text x="530.9" y="197.2" font-size="10.4" font-weight="bold" stroke="#1a1a1a" stroke-width="0.3" text-anchor="middle" fill="#1a1a1a" textLength="12.2" lengthAdjust="spacingAndGlyphs">25</text>
<text x="565.2" y="197.2" font-size="10.4" font-weight="bold" stroke="#1a1a1a" stroke-width="0.3" text-anchor="middle" fill="#1a1a1a" textLength="12.2" lengthAdjust="spacingAndGlyphs">30</text>
<text x="599.5" y="197.2" font-size="10.4" font-weight="bold" stroke="#1a1a1a" stroke-width="0.3" text-anchor="middle" fill="#1a1a1a" textLength="12.2" lengthAdjust="spacingAndGlyphs">35</text>
<text x="633.8" y="197.2" font-size="10.4" font-weight="bold" stroke="#1a1a1a" stroke-width="0.3" text-anchor="middle" fill="#1a1a1a" textLength="12.2" lengthAdjust="spacingAndGlyphs">40</text>
<text x="668.1" y="197.2" font-size="10.4" font-weight="bold" stroke="#1a1a1a" stroke-width="0.3" text-anchor="middle" fill="#1a1a1a" textLength="12.2" lengthAdjust="spacingAndGlyphs">45</text>
<text x="702.4" y="197.2" font-size="10.4" font-weight="bold" stroke="#1a1a1a" stroke-width="0.3" text-anchor="middle" fill="#1a1a1a" textLength="12.2" lengthAdjust="spacingAndGlyphs">50</text>
<text x="736.7" y="197.2" font-size="10.4" font-weight="bold" stroke="#1a1a1a" stroke-width="0.3" text-anchor="middle" fill="#1a1a1a" textLength="12.2" lengthAdjust="spacingAndGlyphs">55</text>
<text x="326.2" y="93.75" font-size="15.2" font-weight="bold" stroke="#1a1a1a" stroke-width="0.3" text-anchor="middle" fill="#1a1a1a" textLength="79.9" lengthAdjust="spacingAndGlyphs" transform="rotate(-90 326.2 93.75)"><tspan font-style="italic">E</tspan> vs. Zn / V</text>
<text x="544.65" y="216.7" font-size="14.6" font-weight="bold" stroke="#1a1a1a" stroke-width="0.3" text-anchor="middle" fill="#1a1a1a" textLength="25.6" lengthAdjust="spacingAndGlyphs"><tspan font-style="italic">t</tspan> / h</text>
<text x="302.4" y="20" font-size="20.3" font-weight="bold" stroke="#1a1a1a" stroke-width="0.3" fill="#1a1a1a" textLength="25" lengthAdjust="spacingAndGlyphs">(b)</text>
<text x="363" y="23.6" font-size="14.8" font-weight="bold" stroke="#1a1a1a" stroke-width="0.3" fill="#1a1a1a" textLength="68.6" lengthAdjust="spacingAndGlyphs">FeCo-N-C</text>
</g>
<g id="panel-d">
<path d="M364.4 356.6V277.6Q364.4 277.1 364.9 276.3L366.1 274.7Q366.7 274 366.7 274.5V380Q366.7 380.9 367.6 381.2L368 381.3Q369 381.6 369 380.6V276Q369 275.4 369.5 273.8L370.7 270.3Q371.2 268.6 371.2 269.2V382.9Q371.2 383.8 372.2 384.1L372.6 384.2Q373.5 384.5 373.5 383.5V250.5Q373.5 250 374.1 251L375.3 253.3Q375.8 254.4 375.8 254.9V399.1Q375.8 400.1 376.8 397.2L377.1 396Q378.1 393.1 378.1 392.1V253.3Q378.1 252.7 378.6 253.2L379.8 254.2Q380.4 254.7 380.4 255.2V396.5Q380.4 397.5 381.3 396L381.7 395.4Q382.7 393.9 382.7 392.9V254.1Q382.7 253.5 383.2 253.7L384.4 254.2Q384.9 254.4 384.9 254.9V394.6Q384.9 395.5 385.9 395.2L386.3 395Q387.2 394.7 387.2 393.8V252.5Q387.2 251.9 387.8 252.1L389 252.5Q389.5 252.7 389.5 253.3V394.6Q389.5 395.5 390.5 395.2L390.9 395Q391.8 394.7 391.8 393.7V250.5Q391.8 250 392.4 250L393.5 250Q394.1 250 394.1 250.5V394.5Q394.1 395.5 395 395.2L395.4 395Q396.4 394.7 396.4 393.7V250.5Q396.4 250 396.9 250L398.1 250Q398.7 250 398.7 250.5V394.5Q398.7 395.5 399.6 395.1L400 395Q400.9 394.7 400.9 393.7V250.6Q400.9 250 401.5 250L402.7 250Q403.2 250 403.2 250.6V394.5Q403.2 395.5 404.2 395.1L404.6 395Q405.5 394.7 405.5 393.7V250.6Q405.5 250 406.1 250L407.2 250Q407.8 250 407.8 250.6V394.5Q407.8 395.5 408.7 395.1L409.1 395Q410.1 394.6 410.1 393.7V250.6Q410.1 250 410.6 250L411.8 250Q412.4 250 412.4 250.6V394.5Q412.4 395.4 413.3 395.1L413.7 395Q414.6 394.6 414.6 393.7V250.6Q414.6 250 415.2 250L416.4 250Q416.9 250 416.9 250.6V394.5Q416.9 395.4 417.9 395.1L418.3 395Q419.2 394.6 419.2 393.7V250.6Q419.2 250.1 419.8 250.1L420.9 250.1Q421.5 250.1 421.5 250.6V394.5Q421.5 395.4 422.4 395.1L422.8 394.9Q423.8 394.6 423.8 393.7V250.6Q423.8 250.1 424.3 250.1L425.5 250.1Q426.1 250.1 426.1 250.6V394.5Q426.1 395.4 427 395.1L427.4 394.9Q428.3 394.6 428.3 393.6V250.6Q428.3 250.1 428.9 250.1L430.1 250.1Q430.6 250.1 430.6 250.6V394.4Q430.6 395.4 431.6 395.1L432 394.9Q432.9 394.6 432.9 393.6V250.6Q432.9 250.1 433.5 250.1L434.6 250.1Q435.2 250.1 435.2 250.6V394.4Q435.2 395.4 436.1 395L436.5 394.9Q437.5 394.6 437.5 393.6V250.7Q437.5 250.1 438 250.1L439.2 250.1Q439.8 250.1 439.8 250.7V394.4Q439.8 395.4 440.7 395L441.1 394.9Q442 394.6 442 393.6V250.7Q442 250.1 442.6 250.1L443.8 250.1Q444.3 250.1 444.3 250.7V394.4Q444.3 395.4 445.3 395L445.7 394.9Q446.6 394.5 446.6 393.6V250.7Q446.6 250.1 447.2 250.1L448.4 250.1Q448.9 250.1 448.9 250.7V394.4Q448.9 395.3 449.9 395L450.2 394.9Q451.2 394.5 451.2 393.6V250.7Q451.2 250.2 451.7 250.2L452.9 250.2Q453.5 250.2 453.5 250.7V394.4Q453.5 395.3 454.4 395L454.8 394.9Q455.8 394.5 455.8 393.6V250.7Q455.8 250.2 456.3 250.2L457.5 250.2Q458 250.2 458 250.7V394.4Q458 395.3 459 395L459.4 394.8Q460.3 394.5 460.3 393.6V250.7Q460.3 250.2 460.9 250.2L462.1 250.2Q462.6 250.2 462.6 250.7V394.4Q462.6 395.3 463.6 395L463.9 394.8Q464.9 394.5 464.9 393.5V250.7Q464.9 250.2 465.4 250.2L466.6 250.2Q467.2 250.2 467.2 250.7V394.3Q467.2 395.3 468.1 395L468.5 394.8Q469.5 394.5 469.5 393.5V250.8Q469.5 250.2 470 250.2L471.2 250.2Q471.7 250.2 471.7 250.8V394.3Q471.7 395.3 472.7 394.9L473.1 394.8Q474 394.5 474 393.5V250.8Q474 250.2 474.6 250.2L475.8 250.2Q476.3 250.2 476.3 250.8V394.3Q476.3 395.3 477.3 394.9L477.6 394.8Q478.6 394.5 478.6 393.5V250.7Q478.6 250.1 479.1 250.2L480.3 250.3Q480.9 250.3 480.9 250.9V394.3Q480.9 395.3 481.8 394.9L482.2 394.8Q483.2 394.4 483.2 393.5V250.6Q483.2 250 483.7 250.1L484.9 250.3Q485.4 250.4 485.4 250.9V394.3Q485.4 395.2 486.4 394.9L486.8 394.8Q487.7 394.4 487.7 393.5V250.5Q487.7 249.9 488.3 250.1L489.5 250.3Q490 250.5 490 251V394.3Q490 395.2 491 394.9L491.3 394.8Q492.3 394.4 492.3 393.5V250.4Q492.3 249.8 492.8 250L494 250.4Q494.6 250.6 494.6 251.1V394.3Q494.6 395.2 495.5 394.9L495.9 394.7Q496.9 394.4 496.9 393.5V250.3Q496.9 249.7 497.4 250L498.6 250.4Q499.1 250.6 499.1 251.2V394.3Q499.1 395.2 500.1 394.9L500.5 394.7Q501.4 394.4 501.4 393.4V250.2Q501.4 249.6 502 249.9L503.2 250.5Q503.7 250.7 503.7 251.3V394.2Q503.7 395.2 504.7 394.8L505.1 394.7Q506 394.4 506 393.4V250.1Q506 249.6 506.6 249.9L507.7 250.5Q508.3 250.8 508.3 251.4V394.2Q508.3 395.1 509.2 394.8L509.6 394.7Q510.6 394.3 510.6 393.4V250Q510.6 249.5 511.1 249.8L512.3 250.6Q512.9 250.9 512.9 251.5V394.2Q512.9 395.1 513.8 394.8L514.2 394.6Q515.1 394.3 515.1 393.3V249.9Q515.1 249.4 515.7 249.8L516.9 250.6Q517.4 251 517.4 251.5V394.1Q517.4 395.1 518.4 394.7L518.8 394.6Q519.7 394.3 519.7 393.3V249.9Q519.7 249.4 520.3 249.8L521.4 250.6Q522 251 522 251.6V394.1Q522 395 522.9 394.7L523.3 394.6Q524.3 394.2 524.3 393.3V249.9Q524.3 249.3 524.8 249.8L526 250.7Q526.6 251.1 526.6 251.6V394Q526.6 395 527.5 394.7L527.9 394.5Q528.8 394.2 528.8 393.2V249.9Q528.8 249.3 529.4 249.8L530.6 250.7Q531.1 251.1 531.1 251.7V394Q531.1 395 532.1 394.6L532.5 394.5Q533.4 394.1 533.4 393.2V249.9Q533.4 249.3 534 249.8L535.1 250.7Q535.7 251.2 535.7 251.7V394Q535.7 394.9 536.6 394.6L537 394.4Q538 394.1 538 393.2V249.9Q538 249.3 538.5 249.8L539.7 250.7Q540.3 251.2 540.3 251.8V393.9Q540.3 394.9 541.2 394.5L541.6 394.4Q542.5 394.1 542.5 393.1V249.8Q542.5 249.3 543.1 249.8L544.3 250.8Q544.8 251.2 544.8 251.8V393.9Q544.8 394.8 545.8 394.5L546.2 394.4Q547.1 394 547.1 393.1V249.8Q547.1 249.3 547.7 249.8L548.8 250.8Q549.4 251.3 549.4 251.8V393.9Q549.4 394.8 550.3 394.5L550.7 394.3Q551.7 394 551.7 393V249.8Q551.7 249.3 552.2 249.8L553.4 250.8Q554 251.3 554 251.9V393.8Q554 394.8 554.9 394.4L555.3 394.3Q556.2 394 556.2 393V249.8Q556.2 249.3 556.8 249.8L558 250.9Q558.5 251.4 558.5 251.9V393.8Q558.5 394.7 559.5 394.4L559.9 394.3Q560.8 393.9 560.8 393V249.8Q560.8 249.2 561.4 249.8L562.6 250.9Q563.1 251.4 563.1 252V393.7Q563.1 394.7 564.1 394.4L564.4 394.2Q565.4 393.9 565.4 392.9V249.8Q565.4 249.2 565.9 249.8L567.1 250.9Q567.7 251.4 567.7 252V393.7Q567.7 394.7 568.6 394.3L569 394.2Q570 393.8 570 392.9V249.8Q570 249.2 570.5 249.8L571.7 250.9Q572.2 251.5 572.2 252V393.7Q572.2 394.6 573.2 394.3L573.6 394.1Q574.5 393.8 574.5 392.9V249.8Q574.5 249.2 575.1 249.8L576.3 251Q576.8 251.5 576.8 252.1V393.6Q576.8 394.6 577.8 394.2L578.1 394.1Q579.1 393.8 579.1 392.8V249.7Q579.1 249.2 579.6 249.8L580.8 251Q581.4 251.6 581.4 252.1V393.6Q581.4 394.5 582.3 394.2L582.7 394.1Q583.7 393.7 583.7 392.8V249.7Q583.7 249.2 584.2 249.8L585.4 251Q585.9 251.6 585.9 252.2V393.6Q585.9 394.5 586.9 394.2L587.3 394Q588.2 393.7 588.2 392.7V249.7Q588.2 249.2 588.8 249.8L590 251.1Q590.5 251.7 590.5 252.2V393.5Q590.5 394.5 591.5 394.1L591.8 394Q592.8 393.7 592.8 392.7V249.7Q592.8 249.2 593.3 249.8L594.5 251.1Q595.1 251.7 595.1 252.2V393.5Q595.1 394.4 596 394.1L596.4 394Q597.4 393.6 597.4 392.7V249.7Q597.4 249.1 597.9 249.8L599.1 251.1Q599.6 251.7 599.6 252.3V393.4Q599.6 394.4 600.6 394.1L601 393.9Q601.9 393.6 601.9 392.6V249.6Q601.9 249 602.5 249.7L603.7 251.3Q604.2 252 604.2 252.5V393.4Q604.2 394.4 605.2 394L605.5 393.9Q606.5 393.5 606.5 392.6V249.5Q606.5 248.9 607 249.7L608.2 251.4Q608.8 252.2 608.8 252.7V393.4Q608.8 394.3 609.7 394L610.1 393.8Q611.1 393.5 611.1 392.6V249.4Q611.1 248.8 611.6 249.7L612.8 251.5Q613.3 252.4 613.3 252.9V393.3Q613.3 394.3 614.3 393.9L614.7 393.8Q615.6 393.5 615.6 392.5V249.3Q615.6 248.7 616.2 249.7L617.4 251.7Q617.9 252.6 617.9 253.1V393.3Q617.9 394.2 618.9 393.9L619.3 393.8Q620.2 393.4 620.2 392.5V249.2Q620.2 248.6 620.8 249.6L621.9 251.8Q622.5 252.8 622.5 253.3V393.3Q622.5 394.2 623.4 393.9L623.8 393.7Q624.8 393.4 624.8 392.4V249.1Q624.8 248.5 625.3 249.6L626.5 251.9Q627.1 253 627.1 253.5V393.2Q627.1 394.2 628 393.8L628.4 393.7Q629.3 393.4 629.3 392.4V249Q629.3 248.4 629.9 249.6L631.1 252Q631.6 253.2 631.6 253.7V393.2Q631.6 394.1 632.6 393.8L633 393.7Q633.9 393.3 633.9 392.4V248.9Q633.9 248.3 634.5 249.5L635.6 252.2Q636.2 253.4 636.2 253.9V393.1Q636.2 394.1 637.1 393.8L637.5 393.6Q638.5 393.3 638.5 392.3V248.8Q638.5 248.2 639 249.5L640.2 252.3Q640.8 253.6 640.8 254.2V393.1Q640.8 394 641.7 393.7L642.1 393.6Q643 393.2 643 392.3V248.7Q643 248.1 643.6 249.5L644.8 252.5Q645.3 253.9 645.3 254.5V393Q645.3 394 646.3 393.7L646.7 393.5Q647.6 393.2 647.6 392.2V248.6Q647.6 248 648.2 249.5L649.3 252.8Q649.9 254.3 649.9 254.8V393Q649.9 393.9 650.8 393.6L651.2 393.5Q652.2 393.1 652.2 392.2V248.5Q652.2 248 652.7 249.6L653.9 253Q654.5 254.6 654.5 255.1V392.9Q654.5 393.9 655.4 393.5L655.8 393.4Q656.7 393.1 656.7 392.1V248.4Q656.7 247.9 657.3 249.6L658.5 253.2Q659 254.9 659 255.5V392.9Q659 393.8 660 393.5L660.4 393.4Q661.3 393 661.3 392.1V248.3Q661.3 247.8 661.9 249.6L663 253.5Q663.6 255.3 663.6 255.8V392.8Q663.6 393.8 664.5 393.4L664.9 393.3Q665.9 393 665.9 392V248.3Q665.9 247.7 666.4 249.6L667.6 253.7Q668.2 255.6 668.2 256.1V392.8Q668.2 393.7 669.1 393.4L669.5 393.2Q670.4 392.9 670.4 392V248.2Q670.4 247.6 671 249.5L672.2 253.7Q672.7 255.6 672.7 256.1V392.7Q672.7 393.7 673.7 393.3L674.1 393.2Q675 392.8 675 391.9V248.1Q675 247.6 675.6 249.5L676.8 253.6Q677.3 255.6 677.3 256.1V392.7Q677.3 393.6 678.3 393.3L678.6 393.1Q679.6 392.8 679.6 391.8V248Q679.6 247.5 680.1 249.4L681.3 253.6Q681.9 255.6 681.9 256.1V392.6Q681.9 393.5 682.8 393.2L683.2 393.1Q684.2 392.7 684.2 391.8V248.1Q684.2 247.5 684.7 249.5L685.9 253.6Q686.4 255.6 686.4 256.1V392.5Q686.4 393.5 687.4 393.2L687.8 393Q688.7 392.7 688.7 391.7V248.1Q688.7 247.5 689.3 249.5L690.5 253.7Q691 255.6 691 256.1V392.5Q691 393.4 692 393.1L692.3 393Q693.3 392.6 693.3 391.7V248.1Q693.3 247.6 693.8 249.5L695 253.7Q695.6 255.6 695.6 256.2V392.4Q695.6 393.4 696.5 393L696.9 392.9Q697.9 392.6 697.9 391.6V248.2Q697.9 247.6 698.4 249.5L699.6 253.7Q700.1 255.6 700.1 256.2V392.4Q700.1 393.3 701.1 393L701.5 392.8Q702.4 392.5 702.4 391.6V248.2Q702.4 247.7 703 249.6L704.2 253.7Q704.7 255.6 704.7 256.2V392.3Q704.7 393.3 705.7 392.9L706 392.8Q707 392.5 707 391.5V248.2Q707 247.7 707.5 249.6L708.7 253.7Q709.3 255.6 709.3 256.2V392.3Q709.3 393.2 710.2 392.9L710.6 392.7Q711.6 392.4 711.6 391.4V248.3Q711.6 247.7 712.1 249.6L713.3 253.7Q713.8 255.6 713.8 256.2V392.2Q713.8 393.2 714.8 392.8L715.2 392.7Q716.1 392.3 716.1 391.4V248.3Q716.1 247.8 716.7 249.7L717.9 253.7Q718.4 255.6 718.4 256.2V392.1Q718.4 393.1 719.4 392.8L719.7 392.6Q720.7 392.3 720.7 391.3V248.4Q720.7 247.8 721.2 249.7L722.4 253.8Q723 255.6 723 256.2V392.1Q723 393 723.9 392.7L724.3 392.6Q725.3 392.2 725.3 391.3V248.4Q725.3 247.8 725.8 249.7L727 253.8Q727.5 255.6 727.5 256.2V392Q727.5 393 728.5 392.6L729.1 392.2" fill="none" stroke="#202020" stroke-width="1.1" stroke-linejoin="round" filter="url(#soft)"/>
<line x1="364.4" y1="404.1" x2="364.4" y2="400.2" stroke="#1a1a1a" stroke-width="1.25"/>
<line x1="364.4" y1="225.4" x2="364.4" y2="229.3" stroke="#1a1a1a" stroke-width="1.25"/>
<line x1="371.26" y1="404.1" x2="371.26" y2="401.9" stroke="#1a1a1a" stroke-width="1.25"/>
<line x1="371.26" y1="225.4" x2="371.26" y2="227.6" stroke="#1a1a1a" stroke-width="1.25"/>
<line x1="378.12" y1="404.1" x2="378.12" y2="401.9" stroke="#1a1a1a" stroke-width="1.25"/>
<line x1="378.12" y1="225.4" x2="378.12" y2="227.6" stroke="#1a1a1a" stroke-width="1.25"/>
<line x1="384.97" y1="404.1" x2="384.97" y2="401.9" stroke="#1a1a1a" stroke-width="1.25"/>
<line x1="384.97" y1="225.4" x2="384.97" y2="227.6" stroke="#1a1a1a" stroke-width="1.25"/>
<line x1="391.83" y1="404.1" x2="391.83" y2="401.9" stroke="#1a1a1a" stroke-width="1.25"/>
<line x1="391.83" y1="225.4" x2="391.83" y2="227.6" stroke="#1a1a1a" stroke-width="1.25"/>
<line x1="398.69" y1="404.1" x2="398.69" y2="400.2" stroke="#1a1a1a" stroke-width="1.25"/>
<line x1="398.69" y1="225.4" x2="398.69" y2="229.3" stroke="#1a1a1a" stroke-width="1.25"/>
<line x1="405.55" y1="404.1" x2="405.55" y2="401.9" stroke="#1a1a1a" stroke-width="1.25"/>
<line x1="405.55" y1="225.4" x2="405.55" y2="227.6" stroke="#1a1a1a" stroke-width="1.25"/>
<line x1="412.41" y1="404.1" x2="412.41" y2="401.9" stroke="#1a1a1a" stroke-width="1.25"/>
<line x1="412.41" y1="225.4" x2="412.41" y2="227.6" stroke="#1a1a1a" stroke-width="1.25"/>
<line x1="419.26" y1="404.1" x2="419.26" y2="401.9" stroke="#1a1a1a" stroke-width="1.25"/>
<line x1="419.26" y1="225.4" x2="419.26" y2="227.6" stroke="#1a1a1a" stroke-width="1.25"/>
<line x1="426.12" y1="404.1" x2="426.12" y2="401.9" stroke="#1a1a1a" stroke-width="1.25"/>
<line x1="426.12" y1="225.4" x2="426.12" y2="227.6" stroke="#1a1a1a" stroke-width="1.25"/>
<line x1="432.98" y1="404.1" x2="432.98" y2="400.2" stroke="#1a1a1a" stroke-width="1.25"/>
<line x1="432.98" y1="225.4" x2="432.98" y2="229.3" stroke="#1a1a1a" stroke-width="1.25"/>
<line x1="439.84" y1="404.1" x2="439.84" y2="401.9" stroke="#1a1a1a" stroke-width="1.25"/>
<line x1="439.84" y1="225.4" x2="439.84" y2="227.6" stroke="#1a1a1a" stroke-width="1.25"/>
<line x1="446.7" y1="404.1" x2="446.7" y2="401.9" stroke="#1a1a1a" stroke-width="1.25"/>
<line x1="446.7" y1="225.4" x2="446.7" y2="227.6" stroke="#1a1a1a" stroke-width="1.25"/>
<line x1="453.55" y1="404.1" x2="453.55" y2="401.9" stroke="#1a1a1a" stroke-width="1.25"/>
<line x1="453.55" y1="225.4" x2="453.55" y2="227.6" stroke="#1a1a1a" stroke-width="1.25"/>
<line x1="460.41" y1="404.1" x2="460.41" y2="401.9" stroke="#1a1a1a" stroke-width="1.25"/>
<line x1="460.41" y1="225.4" x2="460.41" y2="227.6" stroke="#1a1a1a" stroke-width="1.25"/>
<line x1="467.27" y1="404.1" x2="467.27" y2="400.2" stroke="#1a1a1a" stroke-width="1.25"/>
<line x1="467.27" y1="225.4" x2="467.27" y2="229.3" stroke="#1a1a1a" stroke-width="1.25"/>
<line x1="474.13" y1="404.1" x2="474.13" y2="401.9" stroke="#1a1a1a" stroke-width="1.25"/>
<line x1="474.13" y1="225.4" x2="474.13" y2="227.6" stroke="#1a1a1a" stroke-width="1.25"/>
<line x1="480.99" y1="404.1" x2="480.99" y2="401.9" stroke="#1a1a1a" stroke-width="1.25"/>
<line x1="480.99" y1="225.4" x2="480.99" y2="227.6" stroke="#1a1a1a" stroke-width="1.25"/>
<line x1="487.84" y1="404.1" x2="487.84" y2="401.9" stroke="#1a1a1a" stroke-width="1.25"/>
<line x1="487.84" y1="225.4" x2="487.84" y2="227.6" stroke="#1a1a1a" stroke-width="1.25"/>
<line x1="494.7" y1="404.1" x2="494.7" y2="401.9" stroke="#1a1a1a" stroke-width="1.25"/>
<line x1="494.7" y1="225.4" x2="494.7" y2="227.6" stroke="#1a1a1a" stroke-width="1.25"/>
<line x1="501.56" y1="404.1" x2="501.56" y2="400.2" stroke="#1a1a1a" stroke-width="1.25"/>
<line x1="501.56" y1="225.4" x2="501.56" y2="229.3" stroke="#1a1a1a" stroke-width="1.25"/>
<line x1="508.42" y1="404.1" x2="508.42" y2="401.9" stroke="#1a1a1a" stroke-width="1.25"/>
<line x1="508.42" y1="225.4" x2="508.42" y2="227.6" stroke="#1a1a1a" stroke-width="1.25"/>
<line x1="515.28" y1="404.1" x2="515.28" y2="401.9" stroke="#1a1a1a" stroke-width="1.25"/>
<line x1="515.28" y1="225.4" x2="515.28" y2="227.6" stroke="#1a1a1a" stroke-width="1.25"/>
<line x1="522.13" y1="404.1" x2="522.13" y2="401.9" stroke="#1a1a1a" stroke-width="1.25"/>
<line x1="522.13" y1="225.4" x2="522.13" y2="227.6" stroke="#1a1a1a" stroke-width="1.25"/>
<line x1="528.99" y1="404.1" x2="528.99" y2="401.9" stroke="#1a1a1a" stroke-width="1.25"/>
<line x1="528.99" y1="225.4" x2="528.99" y2="227.6" stroke="#1a1a1a" stroke-width="1.25"/>
<line x1="535.85" y1="404.1" x2="535.85" y2="400.2" stroke="#1a1a1a" stroke-width="1.25"/>
<line x1="535.85" y1="225.4" x2="535.85" y2="229.3" stroke="#1a1a1a" stroke-width="1.25"/>
<line x1="542.71" y1="404.1" x2="542.71" y2="401.9" stroke="#1a1a1a" stroke-width="1.25"/>
<line x1="542.71" y1="225.4" x2="542.71" y2="227.6" stroke="#1a1a1a" stroke-width="1.25"/>
<line x1="549.57" y1="404.1" x2="549.57" y2="401.9" stroke="#1a1a1a" stroke-width="1.25"/>
<line x1="549.57" y1="225.4" x2="549.57" y2="227.6" stroke="#1a1a1a" stroke-width="1.25"/>
<line x1="556.42" y1="404.1" x2="556.42" y2="401.9" stroke="#1a1a1a" stroke-width="1.25"/>
<line x1="556.42" y1="225.4" x2="556.42" y2="227.6" stroke="#1a1a1a" stroke-width="1.25"/>
<line x1="563.28" y1="404.1" x2="563.28" y2="401.9" stroke="#1a1a1a" stroke-width="1.25"/>
<line x1="563.28" y1="225.4" x2="563.28" y2="227.6" stroke="#1a1a1a" stroke-width="1.25"/>
<line x1="570.14" y1="404.1" x2="570.14" y2="400.2" stroke="#1a1a1a" stroke-width="1.25"/>
<line x1="570.14" y1="225.4" x2="570.14" y2="229.3" stroke="#1a1a1a" stroke-width="1.25"/>
<line x1="577" y1="404.1" x2="577" y2="401.9" stroke="#1a1a1a" stroke-width="1.25"/>
<line x1="577" y1="225.4" x2="577" y2="227.6" stroke="#1a1a1a" stroke-width="1.25"/>
<line x1="583.86" y1="404.1" x2="583.86" y2="401.9" stroke="#1a1a1a" stroke-width="1.25"/>
<line x1="583.86" y1="225.4" x2="583.86" y2="227.6" stroke="#1a1a1a" stroke-width="1.25"/>
<line x1="590.71" y1="404.1" x2="590.71" y2="401.9" stroke="#1a1a1a" stroke-width="1.25"/>
<line x1="590.71" y1="225.4" x2="590.71" y2="227.6" stroke="#1a1a1a" stroke-width="1.25"/>
<line x1="597.57" y1="404.1" x2="597.57" y2="401.9" stroke="#1a1a1a" stroke-width="1.25"/>
<line x1="597.57" y1="225.4" x2="597.57" y2="227.6" stroke="#1a1a1a" stroke-width="1.25"/>
<line x1="604.43" y1="404.1" x2="604.43" y2="400.2" stroke="#1a1a1a" stroke-width="1.25"/>
<line x1="604.43" y1="225.4" x2="604.43" y2="229.3" stroke="#1a1a1a" stroke-width="1.25"/>
<line x1="611.29" y1="404.1" x2="611.29" y2="401.9" stroke="#1a1a1a" stroke-width="1.25"/>
<line x1="611.29" y1="225.4" x2="611.29" y2="227.6" stroke="#1a1a1a" stroke-width="1.25"/>
<line x1="618.15" y1="404.1" x2="618.15" y2="401.9" stroke="#1a1a1a" stroke-width="1.25"/>
<line x1="618.15" y1="225.4" x2="618.15" y2="227.6" stroke="#1a1a1a" stroke-width="1.25"/>
<line x1="625" y1="404.1" x2="625" y2="401.9" stroke="#1a1a1a" stroke-width="1.25"/>
<line x1="625" y1="225.4" x2="625" y2="227.6" stroke="#1a1a1a" stroke-width="1.25"/>
<line x1="631.86" y1="404.1" x2="631.86" y2="401.9" stroke="#1a1a1a" stroke-width="1.25"/>
<line x1="631.86" y1="225.4" x2="631.86" y2="227.6" stroke="#1a1a1a" stroke-width="1.25"/>
<line x1="638.72" y1="404.1" x2="638.72" y2="400.2" stroke="#1a1a1a" stroke-width="1.25"/>
<line x1="638.72" y1="225.4" x2="638.72" y2="229.3" stroke="#1a1a1a" stroke-width="1.25"/>
<line x1="645.58" y1="404.1" x2="645.58" y2="401.9" stroke="#1a1a1a" stroke-width="1.25"/>
<line x1="645.58" y1="225.4" x2="645.58" y2="227.6" stroke="#1a1a1a" stroke-width="1.25"/>
<line x1="652.44" y1="404.1" x2="652.44" y2="401.9" stroke="#1a1a1a" stroke-width="1.25"/>
<line x1="652.44" y1="225.4" x2="652.44" y2="227.6" stroke="#1a1a1a" stroke-width="1.25"/>
<line x1="659.29" y1="404.1" x2="659.29" y2="401.9" stroke="#1a1a1a" stroke-width="1.25"/>
<line x1="659.29" y1="225.4" x2="659.29" y2="227.6" stroke="#1a1a1a" stroke-width="1.25"/>
<line x1="666.15" y1="404.1" x2="666.15" y2="401.9" stroke="#1a1a1a" stroke-width="1.25"/>
<line x1="666.15" y1="225.4" x2="666.15" y2="227.6" stroke="#1a1a1a" stroke-width="1.25"/>
<line x1="673.01" y1="404.1" x2="673.01" y2="400.2" stroke="#1a1a1a" stroke-width="1.25"/>
<line x1="673.01" y1="225.4" x2="673.01" y2="229.3" stroke="#1a1a1a" stroke-width="1.25"/>
<line x1="679.87" y1="404.1" x2="679.87" y2="401.9" stroke="#1a1a1a" stroke-width="1.25"/>
<line x1="679.87" y1="225.4" x2="679.87" y2="227.6" stroke="#1a1a1a" stroke-width="1.25"/>
<line x1="686.73" y1="404.1" x2="686.73" y2="401.9" stroke="#1a1a1a" stroke-width="1.25"/>
<line x1="686.73" y1="225.4" x2="686.73" y2="227.6" stroke="#1a1a1a" stroke-width="1.25"/>
<line x1="693.58" y1="404.1" x2="693.58" y2="401.9" stroke="#1a1a1a" stroke-width="1.25"/>
<line x1="693.58" y1="225.4" x2="693.58" y2="227.6" stroke="#1a1a1a" stroke-width="1.25"/>
<line x1="700.44" y1="404.1" x2="700.44" y2="401.9" stroke="#1a1a1a" stroke-width="1.25"/>
<line x1="700.44" y1="225.4" x2="700.44" y2="227.6" stroke="#1a1a1a" stroke-width="1.25"/>
<line x1="707.3" y1="404.1" x2="707.3" y2="400.2" stroke="#1a1a1a" stroke-width="1.25"/>
<line x1="707.3" y1="225.4" x2="707.3" y2="229.3" stroke="#1a1a1a" stroke-width="1.25"/>
<line x1="714.16" y1="404.1" x2="714.16" y2="401.9" stroke="#1a1a1a" stroke-width="1.25"/>
<line x1="714.16" y1="225.4" x2="714.16" y2="227.6" stroke="#1a1a1a" stroke-width="1.25"/>
<line x1="721.02" y1="404.1" x2="721.02" y2="401.9" stroke="#1a1a1a" stroke-width="1.25"/>
<line x1="721.02" y1="225.4" x2="721.02" y2="227.6" stroke="#1a1a1a" stroke-width="1.25"/>
<line x1="727.87" y1="404.1" x2="727.87" y2="401.9" stroke="#1a1a1a" stroke-width="1.25"/>
<line x1="727.87" y1="225.4" x2="727.87" y2="227.6" stroke="#1a1a1a" stroke-width="1.25"/>
<line x1="734.73" y1="404.1" x2="734.73" y2="401.9" stroke="#1a1a1a" stroke-width="1.25"/>
<line x1="734.73" y1="225.4" x2="734.73" y2="227.6" stroke="#1a1a1a" stroke-width="1.25"/>
<line x1="357.6" y1="387.4" x2="361.5" y2="387.4" stroke="#1a1a1a" stroke-width="1.25"/>
<line x1="741.6" y1="387.4" x2="737.7" y2="387.4" stroke="#1a1a1a" stroke-width="1.25"/>
<line x1="357.6" y1="371.18" x2="359.8" y2="371.18" stroke="#1a1a1a" stroke-width="1.25"/>
<line x1="741.6" y1="371.18" x2="739.4" y2="371.18" stroke="#1a1a1a" stroke-width="1.25"/>
<line x1="357.6" y1="354.95" x2="361.5" y2="354.95" stroke="#1a1a1a" stroke-width="1.25"/>
<line x1="741.6" y1="354.95" x2="737.7" y2="354.95" stroke="#1a1a1a" stroke-width="1.25"/>
<line x1="357.6" y1="338.73" x2="359.8" y2="338.73" stroke="#1a1a1a" stroke-width="1.25"/>
<line x1="741.6" y1="338.73" x2="739.4" y2="338.73" stroke="#1a1a1a" stroke-width="1.25"/>
<line x1="357.6" y1="322.5" x2="361.5" y2="322.5" stroke="#1a1a1a" stroke-width="1.25"/>
<line x1="741.6" y1="322.5" x2="737.7" y2="322.5" stroke="#1a1a1a" stroke-width="1.25"/>
<line x1="357.6" y1="306.28" x2="359.8" y2="306.28" stroke="#1a1a1a" stroke-width="1.25"/>
<line x1="741.6" y1="306.28" x2="739.4" y2="306.28" stroke="#1a1a1a" stroke-width="1.25"/>
<line x1="357.6" y1="290.05" x2="361.5" y2="290.05" stroke="#1a1a1a" stroke-width="1.25"/>
<line x1="741.6" y1="290.05" x2="737.7" y2="290.05" stroke="#1a1a1a" stroke-width="1.25"/>
<line x1="357.6" y1="273.83" x2="359.8" y2="273.83" stroke="#1a1a1a" stroke-width="1.25"/>
<line x1="741.6" y1="273.83" x2="739.4" y2="273.83" stroke="#1a1a1a" stroke-width="1.25"/>
<line x1="357.6" y1="257.6" x2="361.5" y2="257.6" stroke="#1a1a1a" stroke-width="1.25"/>
<line x1="741.6" y1="257.6" x2="737.7" y2="257.6" stroke="#1a1a1a" stroke-width="1.25"/>
<line x1="357.6" y1="241.38" x2="359.8" y2="241.38" stroke="#1a1a1a" stroke-width="1.25"/>
<line x1="741.6" y1="241.38" x2="739.4" y2="241.38" stroke="#1a1a1a" stroke-width="1.25"/>
<rect x="357.6" y="225.4" width="384" height="178.7" fill="none" stroke="#1a1a1a" stroke-width="1.3"/>
<text x="353" y="391.1" font-size="10.4" font-weight="bold" stroke="#1a1a1a" stroke-width="0.3" text-anchor="end" fill="#1a1a1a" textLength="15.2" lengthAdjust="spacingAndGlyphs">1.2</text>
<text x="353" y="358.65" font-size="10.4" font-weight="bold" stroke="#1a1a1a" stroke-width="0.3" text-anchor="end" fill="#1a1a1a" textLength="15.2" lengthAdjust="spacingAndGlyphs">1.4</text>
<text x="353" y="326.2" font-size="10.4" font-weight="bold" stroke="#1a1a1a" stroke-width="0.3" text-anchor="end" fill="#1a1a1a" textLength="15.2" lengthAdjust="spacingAndGlyphs">1.6</text>
<text x="353" y="293.75" font-size="10.4" font-weight="bold" stroke="#1a1a1a" stroke-width="0.3" text-anchor="end" fill="#1a1a1a" textLength="15.2" lengthAdjust="spacingAndGlyphs">1.8</text>
<text x="353" y="261.3" font-size="10.4" font-weight="bold" stroke="#1a1a1a" stroke-width="0.3" text-anchor="end" fill="#1a1a1a" textLength="15.2" lengthAdjust="spacingAndGlyphs">2.0</text>
<text x="353" y="228.85" font-size="10.4" font-weight="bold" stroke="#1a1a1a" stroke-width="0.3" text-anchor="end" fill="#1a1a1a" textLength="15.2" lengthAdjust="spacingAndGlyphs">2.2</text>
<text x="364.4" y="417.2" font-size="10.4" font-weight="bold" stroke="#1a1a1a" stroke-width="0.3" text-anchor="middle" fill="#1a1a1a" textLength="6.2" lengthAdjust="spacingAndGlyphs">0</text>
<text x="398.69" y="417.2" font-size="10.4" font-weight="bold" stroke="#1a1a1a" stroke-width="0.3" text-anchor="middle" fill="#1a1a1a" textLength="6.2" lengthAdjust="spacingAndGlyphs">5</text>
<text x="432.98" y="417.2" font-size="10.4" font-weight="bold" stroke="#1a1a1a" stroke-width="0.3" text-anchor="middle" fill="#1a1a1a" textLength="12.2" lengthAdjust="spacingAndGlyphs">10</text>
<text x="467.27" y="417.2" font-size="10.4" font-weight="bold" stroke="#1a1a1a" stroke-width="0.3" text-anchor="middle" fill="#1a1a1a" textLength="12.2" lengthAdjust="spacingAndGlyphs">15</text>
<text x="501.56" y="417.2" font-size="10.4" font-weight="bold" stroke="#1a1a1a" stroke-width="0.3" text-anchor="middle" fill="#1a1a1a" textLength="12.2" lengthAdjust="spacingAndGlyphs">20</text>
<text x="535.85" y="417.2" font-size="10.4" font-weight="bold" stroke="#1a1a1a" stroke-width="0.3" text-anchor="middle" fill="#1a1a1a" textLength="12.2" lengthAdjust="spacingAndGlyphs">25</text>
<text x="570.14" y="417.2" font-size="10.4" font-weight="bold" stroke="#1a1a1a" stroke-width="0.3" text-anchor="middle" fill="#1a1a1a" textLength="12.2" lengthAdjust="spacingAndGlyphs">30</text>
<text x="604.43" y="417.2" font-size="10.4" font-weight="bold" stroke="#1a1a1a" stroke-width="0.3" text-anchor="middle" fill="#1a1a1a" textLength="12.2" lengthAdjust="spacingAndGlyphs">35</text>
<text x="638.72" y="417.2" font-size="10.4" font-weight="bold" stroke="#1a1a1a" stroke-width="0.3" text-anchor="middle" fill="#1a1a1a" textLength="12.2" lengthAdjust="spacingAndGlyphs">40</text>
<text x="673.01" y="417.2" font-size="10.4" font-weight="bold" stroke="#1a1a1a" stroke-width="0.3" text-anchor="middle" fill="#1a1a1a" textLength="12.2" lengthAdjust="spacingAndGlyphs">45</text>
<text x="707.3" y="417.2" font-size="10.4" font-weight="bold" stroke="#1a1a1a" stroke-width="0.3" text-anchor="middle" fill="#1a1a1a" textLength="12.2" lengthAdjust="spacingAndGlyphs">50</text>
<text x="741.59" y="417.2" font-size="10.4" font-weight="bold" stroke="#1a1a1a" stroke-width="0.3" text-anchor="middle" fill="#1a1a1a" textLength="12.2" lengthAdjust="spacingAndGlyphs">55</text>
<text x="333" y="320.5" font-size="15.2" font-weight="bold" stroke="#1a1a1a" stroke-width="0.3" text-anchor="middle" fill="#1a1a1a" textLength="79.9" lengthAdjust="spacingAndGlyphs" transform="rotate(-90 333 320.5)"><tspan font-style="italic">E</tspan> vs. Zn / V</text>
<text x="549.3" y="436.3" font-size="14.6" font-weight="bold" stroke="#1a1a1a" stroke-width="0.3" text-anchor="middle" fill="#1a1a1a" textLength="25.6" lengthAdjust="spacingAndGlyphs"><tspan font-style="italic">t</tspan> / h</text>
<text x="307.4" y="239" font-size="20.3" font-weight="bold" stroke="#1a1a1a" stroke-width="0.3" fill="#1a1a1a" textLength="24.6" lengthAdjust="spacingAndGlyphs">(d)</text>
<text x="374.3" y="245.1" font-size="14.8" font-weight="bold" stroke="#1a1a1a" stroke-width="0.3" fill="#1a1a1a" textLength="65.4" lengthAdjust="spacingAndGlyphs">CoNi-N-C</text>
</g>
<g id="panel-f">
<path d="M366.4 574V498.2Q366.4 497.7 367 497.5L368.2 497.3Q368.7 497.2 368.7 497.7V611.7Q368.7 612.7 369.7 612.4L370.1 612.2Q371 611.9 371 610.9V497.2Q371 496.7 371.6 496.5L372.8 496.2Q373.3 496 373.3 496.6V614.5Q373.3 615.5 374.3 615.1L374.6 615Q375.6 614.6 375.6 613.7V492.5Q375.6 492 376.1 492.5L377.3 493.6Q377.9 494.1 377.9 494.6V616.6Q377.9 617.6 378.8 617.2L379.2 617.1Q380.2 616.8 380.2 615.8V489.3Q380.2 488.7 380.7 489.1L381.9 490.1Q382.4 490.5 382.4 491.1V618.6Q382.4 619.5 383.4 619.2L383.8 619.1Q384.7 618.7 384.7 617.8V486.2Q384.7 485.6 385.3 485.5L386.5 485.3Q387 485.1 387 485.7V619.4Q387 620.3 388 620L388.3 619.9Q389.3 619.5 389.3 618.6V485Q389.3 484.5 389.8 484.5L391 484.5Q391.6 484.5 391.6 485V620Q391.6 621 392.5 620.6L392.9 620.5Q393.9 620.2 393.9 619.2V485Q393.9 484.5 394.4 484.5L395.6 484.5Q396.2 484.5 396.2 485V620.6Q396.2 621.6 397.1 621.2L397.5 621.1Q398.4 620.7 398.4 619.8V485Q398.4 484.5 399 484.5L400.2 484.5Q400.7 484.5 400.7 485V620.6Q400.7 621.6 401.7 621.2L402.1 621.1Q403 620.7 403 619.8V485Q403 484.5 403.6 484.5L404.7 484.5Q405.3 484.5 405.3 485V620.6Q405.3 621.6 406.2 621.2L406.6 621.1Q407.6 620.7 407.6 619.8V485Q407.6 484.5 408.1 484.5L409.3 484.5Q409.9 484.5 409.9 485V620.6Q409.9 621.6 410.8 621.2L411.2 621.1Q412.1 620.7 412.1 619.8V485Q412.1 484.5 412.7 484.5L413.9 484.5Q414.4 484.5 414.4 485V620.6Q414.4 621.6 415.4 621.2L415.8 621.1Q416.7 620.7 416.7 619.8V485Q416.7 484.5 417.3 484.5L418.5 484.5Q419 484.5 419 485V620.6Q419 621.5 420 621.2L420.3 621.1Q421.3 620.7 421.3 619.8V485Q421.3 484.5 421.8 484.5L423 484.5Q423.6 484.5 423.6 485V620.6Q423.6 621.5 424.5 621.2L424.9 621.1Q425.9 620.7 425.9 619.8V485Q425.9 484.5 426.4 484.5L427.6 484.5Q428.1 484.5 428.1 485V620.6Q428.1 621.5 429.1 621.2L429.5 621.1Q430.4 620.7 430.4 619.8V485Q430.4 484.5 431 484.5L432.2 484.5Q432.7 484.5 432.7 485V620.6Q432.7 621.5 433.7 621.2L434 621.1Q435 620.7 435 619.8V485Q435 484.5 435.5 484.5L436.7 484.5Q437.3 484.5 437.3 485V620.6Q437.3 621.5 438.2 621.2L438.6 621.1Q439.6 620.7 439.6 619.8V485Q439.6 484.5 440.1 484.5L441.3 484.5Q441.9 484.5 441.9 485V620.6Q441.9 621.5 442.8 621.2L443.2 621.1Q444.1 620.7 444.1 619.8V485Q444.1 484.5 444.7 484.5L445.9 484.5Q446.4 484.5 446.4 485V620.6Q446.4 621.5 447.4 621.2L447.8 621.1Q448.7 620.7 448.7 619.8V485Q448.7 484.5 449.3 484.5L450.4 484.5Q451 484.5 451 485V620.6Q451 621.5 451.9 621.2L452.3 621.1Q453.3 620.7 453.3 619.8V485Q453.3 484.5 453.8 484.5L455 484.5Q455.6 484.5 455.6 485V620.6Q455.6 621.5 456.5 621.2L456.9 621.1Q457.8 620.7 457.8 619.8V485Q457.8 484.5 458.4 484.5L459.6 484.5Q460.1 484.5 460.1 485V620.6Q460.1 621.5 461.1 621.2L461.5 621.1Q462.4 620.7 462.4 619.8V485Q462.4 484.5 463 484.5L464.2 484.5Q464.7 484.5 464.7 485V620.6Q464.7 621.5 465.7 621.2L466 621.1Q467 620.7 467 619.8V485Q467 484.5 467.5 484.5L468.7 484.5Q469.3 484.5 469.3 485V620.6Q469.3 621.5 470.2 621.2L470.6 621.1Q471.6 620.7 471.6 619.8V485Q471.6 484.5 472.1 484.5L473.3 484.5Q473.8 484.5 473.8 485V620.6Q473.8 621.5 474.8 621.2L475.2 621.1Q476.1 620.7 476.1 619.8V485Q476.1 484.5 476.7 484.5L477.9 484.5Q478.4 484.5 478.4 485V620.6Q478.4 621.5 479.4 621.2L479.7 621.1Q480.7 620.7 480.7 619.8V485Q480.7 484.5 481.2 484.5L482.4 484.5Q483 484.5 483 485V620.6Q483 621.5 483.9 621.2L484.3 621.1Q485.3 620.7 485.3 619.8V485Q485.3 484.5 485.8 484.5L487 484.5Q487.6 484.5 487.6 485V620.6Q487.6 621.5 488.5 621.2L488.9 621.1Q489.8 620.7 489.8 619.8V485Q489.8 484.5 490.4 484.5L491.6 484.5Q492.1 484.5 492.1 485V620.6Q492.1 621.5 493.1 621.2L493.5 621Q494.4 620.7 494.4 619.8V485Q494.4 484.5 495 484.5L496.1 484.5Q496.7 484.5 496.7 485V620.6Q496.7 621.5 497.6 621.2L498 621Q499 620.7 499 619.8V485Q499 484.5 499.5 484.5L500.7 484.5Q501.3 484.5 501.3 485V620.6Q501.3 621.5 502.2 621.2L502.6 621Q503.5 620.7 503.5 619.8V485Q503.5 484.5 504.1 484.5L505.3 484.5Q505.8 484.5 505.8 485V620.6Q505.8 621.5 506.8 621.2L507.2 621Q508.1 620.7 508.1 619.8V485Q508.1 484.5 508.7 484.5L509.9 484.5Q510.4 484.5 510.4 485V620.6Q510.4 621.5 511.4 621.2L511.7 621Q512.7 620.7 512.7 619.8V485Q512.7 484.5 513.2 484.5L514.4 484.5Q515 484.5 515 485V620.6Q515 621.5 515.9 621.2L516.3 621Q517.3 620.7 517.3 619.8V485Q517.3 484.5 517.8 484.5L519 484.5Q519.5 484.5 519.5 485V620.6Q519.5 621.5 520.5 621.2L520.9 621Q521.8 620.7 521.8 619.8V485Q521.8 484.5 522.4 484.5L523.6 484.5Q524.1 484.5 524.1 485V620.6Q524.1 621.5 525.1 621.2L525.4 621Q526.4 620.7 526.4 619.8V485Q526.4 484.5 526.9 484.5L528.1 484.5Q528.7 484.5 528.7 485V620.6Q528.7 621.5 529.6 621.2L530 621Q531 620.7 531 619.8V485Q531 484.5 531.5 484.5L532.7 484.5Q533.3 484.5 533.3 485V620.6Q533.3 621.5 534.2 621.2L534.6 621Q535.5 620.7 535.5 619.7V485Q535.5 484.5 536.1 484.5L537.3 484.5Q537.8 484.5 537.8 485V620.6Q537.8 621.5 538.8 621.2L539.2 621Q540.1 620.7 540.1 619.7V485.1Q540.1 484.5 540.7 484.5L541.8 484.5Q542.4 484.5 542.4 485.1V620.6Q542.4 621.5 543.3 621.2L543.7 621Q544.7 620.7 544.7 619.7V485.1Q544.7 484.6 545.2 484.6L546.4 484.6Q547 484.6 547 485.1V620.6Q547 621.5 547.9 621.2L548.3 621Q549.2 620.7 549.2 619.7V485.2Q549.2 484.7 549.8 484.7L551 484.7Q551.5 484.7 551.5 485.2V620.6Q551.5 621.5 552.5 621.2L552.9 621Q553.8 620.7 553.8 619.7V485.3Q553.8 484.7 554.4 484.7L555.6 484.7Q556.1 484.7 556.1 485.3V620.6Q556.1 621.5 557.1 621.2L557.4 621Q558.4 620.7 558.4 619.7V485.3Q558.4 484.8 558.9 484.8L560.1 484.8Q560.7 484.8 560.7 485.3V620.6Q560.7 621.5 561.6 621.2L562 621Q563 620.7 563 619.7V485.4Q563 484.8 563.5 484.8L564.7 484.8Q565.2 484.8 565.2 485.4V620.6Q565.2 621.5 566.2 621.2L566.6 621Q567.5 620.7 567.5 619.7V485.5Q567.5 484.9 568.1 484.9L569.3 484.9Q569.8 484.9 569.8 485.5V620.5Q569.8 621.5 570.8 621.2L571.1 621Q572.1 620.7 572.1 619.7V485.5Q572.1 485 572.6 485L573.8 485Q574.4 485 574.4 485.5V620.5Q574.4 621.5 575.3 621.2L575.7 621Q576.7 620.7 576.7 619.7V485.6Q576.7 485 577.2 485L578.4 485Q579 485 579 485.6V620.5Q579 621.5 579.9 621.2L580.3 621Q581.2 620.7 581.2 619.7V485.7Q581.2 485.1 581.8 485.1L583 485.1Q583.5 485.1 583.5 485.7V620.5Q583.5 621.5 584.5 621.2L584.9 621Q585.8 620.7 585.8 619.7V485.7Q585.8 485.2 586.4 485.2L587.5 485.2Q588.1 485.2 588.1 485.7V620.5Q588.1 621.5 589 621.2L589.4 621Q590.4 620.7 590.4 619.7V485.8Q590.4 485.2 590.9 485.2L592.1 485.2Q592.7 485.2 592.7 485.8V620.5Q592.7 621.5 593.6 621.2L594 621Q594.9 620.7 594.9 619.7V485.9Q594.9 485.3 595.5 485.3L596.7 485.3Q597.2 485.3 597.2 485.9V620.5Q597.2 621.5 598.2 621.2L598.6 621Q599.5 620.7 599.5 619.7V485.9Q599.5 485.4 600.1 485.4L601.3 485.4Q601.8 485.4 601.8 485.9V620.5Q601.8 621.5 602.8 621.2L603.1 621Q604.1 620.7 604.1 619.7V486Q604.1 485.4 604.6 485.4L605.8 485.4Q606.4 485.4 606.4 486V620.5Q606.4 621.5 607.3 621.1L607.7 621Q608.7 620.7 608.7 619.7V486Q608.7 485.5 609.2 485.5L610.4 485.5Q610.9 485.5 610.9 486V620.5Q610.9 621.5 611.9 621.1L612.3 621Q613.2 620.7 613.2 619.7V486.1Q613.2 485.6 613.8 485.6L615 485.6Q615.5 485.6 615.5 486.1V620.5Q615.5 621.5 616.5 621.1L616.8 621Q617.8 620.7 617.8 619.7V486.2Q617.8 485.6 618.3 485.6L619.5 485.6Q620.1 485.6 620.1 486.2V620.5Q620.1 621.5 621 621.1L621.4 621Q622.4 620.7 622.4 619.7V486.2Q622.4 485.7 622.9 485.7L624.1 485.7Q624.7 485.7 624.7 486.2V620.5Q624.7 621.5 625.6 621.1L626 621Q626.9 620.7 626.9 619.7V486.3Q626.9 485.8 627.5 485.8L628.7 485.8Q629.2 485.8 629.2 486.3V620.5Q629.2 621.5 630.2 621.1L630.6 621Q631.5 620.7 631.5 619.7V486.4Q631.5 485.8 632.1 485.8L633.2 485.8Q633.8 485.8 633.8 486.4V620.5Q633.8 621.5 634.7 621.1L635.1 621Q636.1 620.7 636.1 619.7V486.4Q636.1 485.9 636.6 485.9L637.8 485.9Q638.4 485.9 638.4 486.4V620.5Q638.4 621.5 639.3 621.1L639.7 621Q640.6 620.7 640.6 619.7V486.5Q640.6 486 641.2 486L642.4 486Q642.9 486 642.9 486.5V620.5Q642.9 621.5 643.9 621.1L644.3 621Q645.2 620.7 645.2 619.7V487.7Q645.2 487.1 645.8 488L647 490Q647.5 490.9 647.5 491.4V620.5Q647.5 621.5 648.5 621.1L648.8 621Q649.8 620.6 649.8 619.7V486.6Q649.8 486 650.3 486L651.5 486Q652.1 486 652.1 486.6V620.5Q652.1 621.4 653 621.1L653.4 621Q654.4 620.6 654.4 619.7V487.8Q654.4 487.2 654.9 488.1L656.1 490.1Q656.6 491 656.6 491.5V620.5Q656.6 621.4 657.6 621.1L658 621Q658.9 620.6 658.9 619.7V486.7Q658.9 486.1 659.5 486.1L660.7 486.1Q661.2 486.1 661.2 486.7V620.5Q661.2 621.4 662.2 621.1L662.5 620.9Q663.5 620.6 663.5 619.6V487.9Q663.5 487.3 664 488.2L665.2 490.2Q665.8 491.1 665.8 491.6V620.4Q665.8 621.4 666.7 621.1L667.1 620.9Q668.1 620.6 668.1 619.6V486.8Q668.1 486.2 668.6 486.2L669.8 486.2Q670.4 486.2 670.4 486.8V620.4Q670.4 621.4 671.3 621L671.7 620.9Q672.6 620.6 672.6 619.6V488Q672.6 487.4 673.2 488.3L674.4 490.3Q674.9 491.2 674.9 491.7V620.4Q674.9 621.4 675.9 621L676.3 620.9Q677.2 620.5 677.2 619.6V486.9Q677.2 486.3 677.8 486.3L678.9 486.3Q679.5 486.3 679.5 486.9V620.4Q679.5 621.3 680.4 621L680.8 620.9Q681.8 620.5 681.8 619.6V488.1Q681.8 487.5 682.3 488.4L683.5 490.4Q684.1 491.3 684.1 491.8V620.4Q684.1 621.3 685 621L685.4 620.9Q686.3 620.5 686.3 619.6V487Q686.3 486.4 686.9 486.4L688.1 486.4Q688.6 486.4 688.6 487V620.4Q688.6 621.3 689.6 621L690 620.8Q690.9 620.5 690.9 619.6V488.2Q690.9 487.6 691.5 488.5L692.7 490.5Q693.2 491.4 693.2 491.9V620.3Q693.2 621.3 694.2 621L694.5 620.8Q695.5 620.5 695.5 619.5V487.1Q695.5 486.5 696 486.5L697.2 486.5Q697.8 486.5 697.8 487.1V620.3Q697.8 621.3 698.7 620.9L699.1 620.8Q700.1 620.5 700.1 619.5V488.3Q700.1 487.7 700.6 488.6L701.8 490.6Q702.3 491.5 702.3 492V620.3Q702.3 621.3 703.3 620.9L703.7 620.8Q704.6 620.5 704.6 619.5V487.2Q704.6 486.6 705.2 486.6L706.4 486.6Q706.9 486.6 706.9 487.2V620.3Q706.9 621.2 707.9 620.9L708.2 620.8Q709.2 620.4 709.2 619.5V488.4Q709.2 487.8 709.7 488.7L710.9 490.6Q711.5 491.5 711.5 492.1V620.3Q711.5 621.2 712.4 620.9L712.8 620.8Q713.8 620.4 713.8 619.5V487.3Q713.8 486.7 714.3 486.7L715.5 486.7Q716.1 486.7 716.1 487.3V620.3Q716.1 621.2 717 620.9L717.4 620.7Q718.3 620.4 718.3 619.5V488.5Q718.3 487.9 718.9 488.8L720.1 490.7Q720.6 491.6 720.6 492.2V620.3Q720.6 621.2 721.6 620.9L722 620.7Q722.9 620.4 722.9 619.4V487.4Q722.9 486.8 723.5 486.8L724.6 486.8Q725.2 486.8 725.2 487.4V620.2Q725.2 621.2 726.1 620.8L726.5 620.7Q727.5 620.4 727.5 619.4V488.6Q727.5 488 728 488.9L729.2 490.8Q729.8 491.7 729.8 492.3V620.2Q729.8 621.2 730.7 620.8L731.4 620.4" fill="none" stroke="#202020" stroke-width="1.1" stroke-linejoin="round" filter="url(#soft)"/>
<line x1="366.6" y1="630.5" x2="366.6" y2="626.6" stroke="#1a1a1a" stroke-width="1.25"/>
<line x1="366.6" y1="451.6" x2="366.6" y2="455.5" stroke="#1a1a1a" stroke-width="1.25"/>
<line x1="373.46" y1="630.5" x2="373.46" y2="628.3" stroke="#1a1a1a" stroke-width="1.25"/>
<line x1="373.46" y1="451.6" x2="373.46" y2="453.8" stroke="#1a1a1a" stroke-width="1.25"/>
<line x1="380.31" y1="630.5" x2="380.31" y2="628.3" stroke="#1a1a1a" stroke-width="1.25"/>
<line x1="380.31" y1="451.6" x2="380.31" y2="453.8" stroke="#1a1a1a" stroke-width="1.25"/>
<line x1="387.17" y1="630.5" x2="387.17" y2="628.3" stroke="#1a1a1a" stroke-width="1.25"/>
<line x1="387.17" y1="451.6" x2="387.17" y2="453.8" stroke="#1a1a1a" stroke-width="1.25"/>
<line x1="394.02" y1="630.5" x2="394.02" y2="628.3" stroke="#1a1a1a" stroke-width="1.25"/>
<line x1="394.02" y1="451.6" x2="394.02" y2="453.8" stroke="#1a1a1a" stroke-width="1.25"/>
<line x1="400.88" y1="630.5" x2="400.88" y2="626.6" stroke="#1a1a1a" stroke-width="1.25"/>
<line x1="400.88" y1="451.6" x2="400.88" y2="455.5" stroke="#1a1a1a" stroke-width="1.25"/>
<line x1="407.73" y1="630.5" x2="407.73" y2="628.3" stroke="#1a1a1a" stroke-width="1.25"/>
<line x1="407.73" y1="451.6" x2="407.73" y2="453.8" stroke="#1a1a1a" stroke-width="1.25"/>
<line x1="414.59" y1="630.5" x2="414.59" y2="628.3" stroke="#1a1a1a" stroke-width="1.25"/>
<line x1="414.59" y1="451.6" x2="414.59" y2="453.8" stroke="#1a1a1a" stroke-width="1.25"/>
<line x1="421.44" y1="630.5" x2="421.44" y2="628.3" stroke="#1a1a1a" stroke-width="1.25"/>
<line x1="421.44" y1="451.6" x2="421.44" y2="453.8" stroke="#1a1a1a" stroke-width="1.25"/>
<line x1="428.3" y1="630.5" x2="428.3" y2="628.3" stroke="#1a1a1a" stroke-width="1.25"/>
<line x1="428.3" y1="451.6" x2="428.3" y2="453.8" stroke="#1a1a1a" stroke-width="1.25"/>
<line x1="435.15" y1="630.5" x2="435.15" y2="626.6" stroke="#1a1a1a" stroke-width="1.25"/>
<line x1="435.15" y1="451.6" x2="435.15" y2="455.5" stroke="#1a1a1a" stroke-width="1.25"/>
<line x1="442" y1="630.5" x2="442" y2="628.3" stroke="#1a1a1a" stroke-width="1.25"/>
<line x1="442" y1="451.6" x2="442" y2="453.8" stroke="#1a1a1a" stroke-width="1.25"/>
<line x1="448.86" y1="630.5" x2="448.86" y2="628.3" stroke="#1a1a1a" stroke-width="1.25"/>
<line x1="448.86" y1="451.6" x2="448.86" y2="453.8" stroke="#1a1a1a" stroke-width="1.25"/>
<line x1="455.72" y1="630.5" x2="455.72" y2="628.3" stroke="#1a1a1a" stroke-width="1.25"/>
<line x1="455.72" y1="451.6" x2="455.72" y2="453.8" stroke="#1a1a1a" stroke-width="1.25"/>
<line x1="462.57" y1="630.5" x2="462.57" y2="628.3" stroke="#1a1a1a" stroke-width="1.25"/>
<line x1="462.57" y1="451.6" x2="462.57" y2="453.8" stroke="#1a1a1a" stroke-width="1.25"/>
<line x1="469.43" y1="630.5" x2="469.43" y2="626.6" stroke="#1a1a1a" stroke-width="1.25"/>
<line x1="469.43" y1="451.6" x2="469.43" y2="455.5" stroke="#1a1a1a" stroke-width="1.25"/>
<line x1="476.28" y1="630.5" x2="476.28" y2="628.3" stroke="#1a1a1a" stroke-width="1.25"/>
<line x1="476.28" y1="451.6" x2="476.28" y2="453.8" stroke="#1a1a1a" stroke-width="1.25"/>
<line x1="483.14" y1="630.5" x2="483.14" y2="628.3" stroke="#1a1a1a" stroke-width="1.25"/>
<line x1="483.14" y1="451.6" x2="483.14" y2="453.8" stroke="#1a1a1a" stroke-width="1.25"/>
<line x1="489.99" y1="630.5" x2="489.99" y2="628.3" stroke="#1a1a1a" stroke-width="1.25"/>
<line x1="489.99" y1="451.6" x2="489.99" y2="453.8" stroke="#1a1a1a" stroke-width="1.25"/>
<line x1="496.85" y1="630.5" x2="496.85" y2="628.3" stroke="#1a1a1a" stroke-width="1.25"/>
<line x1="496.85" y1="451.6" x2="496.85" y2="453.8" stroke="#1a1a1a" stroke-width="1.25"/>
<line x1="503.7" y1="630.5" x2="503.7" y2="626.6" stroke="#1a1a1a" stroke-width="1.25"/>
<line x1="503.7" y1="451.6" x2="503.7" y2="455.5" stroke="#1a1a1a" stroke-width="1.25"/>
<line x1="510.56" y1="630.5" x2="510.56" y2="628.3" stroke="#1a1a1a" stroke-width="1.25"/>
<line x1="510.56" y1="451.6" x2="510.56" y2="453.8" stroke="#1a1a1a" stroke-width="1.25"/>
<line x1="517.41" y1="630.5" x2="517.41" y2="628.3" stroke="#1a1a1a" stroke-width="1.25"/>
<line x1="517.41" y1="451.6" x2="517.41" y2="453.8" stroke="#1a1a1a" stroke-width="1.25"/>
<line x1="524.27" y1="630.5" x2="524.27" y2="628.3" stroke="#1a1a1a" stroke-width="1.25"/>
<line x1="524.27" y1="451.6" x2="524.27" y2="453.8" stroke="#1a1a1a" stroke-width="1.25"/>
<line x1="531.12" y1="630.5" x2="531.12" y2="628.3" stroke="#1a1a1a" stroke-width="1.25"/>
<line x1="531.12" y1="451.6" x2="531.12" y2="453.8" stroke="#1a1a1a" stroke-width="1.25"/>
<line x1="537.98" y1="630.5" x2="537.98" y2="626.6" stroke="#1a1a1a" stroke-width="1.25"/>
<line x1="537.98" y1="451.6" x2="537.98" y2="455.5" stroke="#1a1a1a" stroke-width="1.25"/>
<line x1="544.83" y1="630.5" x2="544.83" y2="628.3" stroke="#1a1a1a" stroke-width="1.25"/>
<line x1="544.83" y1="451.6" x2="544.83" y2="453.8" stroke="#1a1a1a" stroke-width="1.25"/>
<line x1="551.69" y1="630.5" x2="551.69" y2="628.3" stroke="#1a1a1a" stroke-width="1.25"/>
<line x1="551.69" y1="451.6" x2="551.69" y2="453.8" stroke="#1a1a1a" stroke-width="1.25"/>
<line x1="558.54" y1="630.5" x2="558.54" y2="628.3" stroke="#1a1a1a" stroke-width="1.25"/>
<line x1="558.54" y1="451.6" x2="558.54" y2="453.8" stroke="#1a1a1a" stroke-width="1.25"/>
<line x1="565.39" y1="630.5" x2="565.39" y2="628.3" stroke="#1a1a1a" stroke-width="1.25"/>
<line x1="565.39" y1="451.6" x2="565.39" y2="453.8" stroke="#1a1a1a" stroke-width="1.25"/>
<line x1="572.25" y1="630.5" x2="572.25" y2="626.6" stroke="#1a1a1a" stroke-width="1.25"/>
<line x1="572.25" y1="451.6" x2="572.25" y2="455.5" stroke="#1a1a1a" stroke-width="1.25"/>
<line x1="579.11" y1="630.5" x2="579.11" y2="628.3" stroke="#1a1a1a" stroke-width="1.25"/>
<line x1="579.11" y1="451.6" x2="579.11" y2="453.8" stroke="#1a1a1a" stroke-width="1.25"/>
<line x1="585.96" y1="630.5" x2="585.96" y2="628.3" stroke="#1a1a1a" stroke-width="1.25"/>
<line x1="585.96" y1="451.6" x2="585.96" y2="453.8" stroke="#1a1a1a" stroke-width="1.25"/>
<line x1="592.82" y1="630.5" x2="592.82" y2="628.3" stroke="#1a1a1a" stroke-width="1.25"/>
<line x1="592.82" y1="451.6" x2="592.82" y2="453.8" stroke="#1a1a1a" stroke-width="1.25"/>
<line x1="599.67" y1="630.5" x2="599.67" y2="628.3" stroke="#1a1a1a" stroke-width="1.25"/>
<line x1="599.67" y1="451.6" x2="599.67" y2="453.8" stroke="#1a1a1a" stroke-width="1.25"/>
<line x1="606.53" y1="630.5" x2="606.53" y2="626.6" stroke="#1a1a1a" stroke-width="1.25"/>
<line x1="606.53" y1="451.6" x2="606.53" y2="455.5" stroke="#1a1a1a" stroke-width="1.25"/>
<line x1="613.38" y1="630.5" x2="613.38" y2="628.3" stroke="#1a1a1a" stroke-width="1.25"/>
<line x1="613.38" y1="451.6" x2="613.38" y2="453.8" stroke="#1a1a1a" stroke-width="1.25"/>
<line x1="620.24" y1="630.5" x2="620.24" y2="628.3" stroke="#1a1a1a" stroke-width="1.25"/>
<line x1="620.24" y1="451.6" x2="620.24" y2="453.8" stroke="#1a1a1a" stroke-width="1.25"/>
<line x1="627.09" y1="630.5" x2="627.09" y2="628.3" stroke="#1a1a1a" stroke-width="1.25"/>
<line x1="627.09" y1="451.6" x2="627.09" y2="453.8" stroke="#1a1a1a" stroke-width="1.25"/>
<line x1="633.95" y1="630.5" x2="633.95" y2="628.3" stroke="#1a1a1a" stroke-width="1.25"/>
<line x1="633.95" y1="451.6" x2="633.95" y2="453.8" stroke="#1a1a1a" stroke-width="1.25"/>
<line x1="640.8" y1="630.5" x2="640.8" y2="626.6" stroke="#1a1a1a" stroke-width="1.25"/>
<line x1="640.8" y1="451.6" x2="640.8" y2="455.5" stroke="#1a1a1a" stroke-width="1.25"/>
<line x1="647.65" y1="630.5" x2="647.65" y2="628.3" stroke="#1a1a1a" stroke-width="1.25"/>
<line x1="647.65" y1="451.6" x2="647.65" y2="453.8" stroke="#1a1a1a" stroke-width="1.25"/>
<line x1="654.51" y1="630.5" x2="654.51" y2="628.3" stroke="#1a1a1a" stroke-width="1.25"/>
<line x1="654.51" y1="451.6" x2="654.51" y2="453.8" stroke="#1a1a1a" stroke-width="1.25"/>
<line x1="661.37" y1="630.5" x2="661.37" y2="628.3" stroke="#1a1a1a" stroke-width="1.25"/>
<line x1="661.37" y1="451.6" x2="661.37" y2="453.8" stroke="#1a1a1a" stroke-width="1.25"/>
<line x1="668.22" y1="630.5" x2="668.22" y2="628.3" stroke="#1a1a1a" stroke-width="1.25"/>
<line x1="668.22" y1="451.6" x2="668.22" y2="453.8" stroke="#1a1a1a" stroke-width="1.25"/>
<line x1="675.08" y1="630.5" x2="675.08" y2="626.6" stroke="#1a1a1a" stroke-width="1.25"/>
<line x1="675.08" y1="451.6" x2="675.08" y2="455.5" stroke="#1a1a1a" stroke-width="1.25"/>
<line x1="681.93" y1="630.5" x2="681.93" y2="628.3" stroke="#1a1a1a" stroke-width="1.25"/>
<line x1="681.93" y1="451.6" x2="681.93" y2="453.8" stroke="#1a1a1a" stroke-width="1.25"/>
<line x1="688.79" y1="630.5" x2="688.79" y2="628.3" stroke="#1a1a1a" stroke-width="1.25"/>
<line x1="688.79" y1="451.6" x2="688.79" y2="453.8" stroke="#1a1a1a" stroke-width="1.25"/>
<line x1="695.64" y1="630.5" x2="695.64" y2="628.3" stroke="#1a1a1a" stroke-width="1.25"/>
<line x1="695.64" y1="451.6" x2="695.64" y2="453.8" stroke="#1a1a1a" stroke-width="1.25"/>
<line x1="702.5" y1="630.5" x2="702.5" y2="628.3" stroke="#1a1a1a" stroke-width="1.25"/>
<line x1="702.5" y1="451.6" x2="702.5" y2="453.8" stroke="#1a1a1a" stroke-width="1.25"/>
<line x1="709.35" y1="630.5" x2="709.35" y2="626.6" stroke="#1a1a1a" stroke-width="1.25"/>
<line x1="709.35" y1="451.6" x2="709.35" y2="455.5" stroke="#1a1a1a" stroke-width="1.25"/>
<line x1="716.21" y1="630.5" x2="716.21" y2="628.3" stroke="#1a1a1a" stroke-width="1.25"/>
<line x1="716.21" y1="451.6" x2="716.21" y2="453.8" stroke="#1a1a1a" stroke-width="1.25"/>
<line x1="723.06" y1="630.5" x2="723.06" y2="628.3" stroke="#1a1a1a" stroke-width="1.25"/>
<line x1="723.06" y1="451.6" x2="723.06" y2="453.8" stroke="#1a1a1a" stroke-width="1.25"/>
<line x1="729.91" y1="630.5" x2="729.91" y2="628.3" stroke="#1a1a1a" stroke-width="1.25"/>
<line x1="729.91" y1="451.6" x2="729.91" y2="453.8" stroke="#1a1a1a" stroke-width="1.25"/>
<line x1="736.77" y1="630.5" x2="736.77" y2="628.3" stroke="#1a1a1a" stroke-width="1.25"/>
<line x1="736.77" y1="451.6" x2="736.77" y2="453.8" stroke="#1a1a1a" stroke-width="1.25"/>
<line x1="359.6" y1="614" x2="363.5" y2="614" stroke="#1a1a1a" stroke-width="1.25"/>
<line x1="743.5" y1="614" x2="739.6" y2="614" stroke="#1a1a1a" stroke-width="1.25"/>
<line x1="359.6" y1="597.75" x2="361.8" y2="597.75" stroke="#1a1a1a" stroke-width="1.25"/>
<line x1="743.5" y1="597.75" x2="741.3" y2="597.75" stroke="#1a1a1a" stroke-width="1.25"/>
<line x1="359.6" y1="581.5" x2="363.5" y2="581.5" stroke="#1a1a1a" stroke-width="1.25"/>
<line x1="743.5" y1="581.5" x2="739.6" y2="581.5" stroke="#1a1a1a" stroke-width="1.25"/>
<line x1="359.6" y1="565.25" x2="361.8" y2="565.25" stroke="#1a1a1a" stroke-width="1.25"/>
<line x1="743.5" y1="565.25" x2="741.3" y2="565.25" stroke="#1a1a1a" stroke-width="1.25"/>
<line x1="359.6" y1="549" x2="363.5" y2="549" stroke="#1a1a1a" stroke-width="1.25"/>
<line x1="743.5" y1="549" x2="739.6" y2="549" stroke="#1a1a1a" stroke-width="1.25"/>
<line x1="359.6" y1="532.75" x2="361.8" y2="532.75" stroke="#1a1a1a" stroke-width="1.25"/>
<line x1="743.5" y1="532.75" x2="741.3" y2="532.75" stroke="#1a1a1a" stroke-width="1.25"/>
<line x1="359.6" y1="516.5" x2="363.5" y2="516.5" stroke="#1a1a1a" stroke-width="1.25"/>
<line x1="743.5" y1="516.5" x2="739.6" y2="516.5" stroke="#1a1a1a" stroke-width="1.25"/>
<line x1="359.6" y1="500.25" x2="361.8" y2="500.25" stroke="#1a1a1a" stroke-width="1.25"/>
<line x1="743.5" y1="500.25" x2="741.3" y2="500.25" stroke="#1a1a1a" stroke-width="1.25"/>
<line x1="359.6" y1="484" x2="363.5" y2="484" stroke="#1a1a1a" stroke-width="1.25"/>
<line x1="743.5" y1="484" x2="739.6" y2="484" stroke="#1a1a1a" stroke-width="1.25"/>
<line x1="359.6" y1="467.75" x2="361.8" y2="467.75" stroke="#1a1a1a" stroke-width="1.25"/>
<line x1="743.5" y1="467.75" x2="741.3" y2="467.75" stroke="#1a1a1a" stroke-width="1.25"/>
<rect x="359.6" y="451.6" width="383.9" height="178.9" fill="none" stroke="#1a1a1a" stroke-width="1.3"/>
<text x="355" y="617.7" font-size="10.4" font-weight="bold" stroke="#1a1a1a" stroke-width="0.3" text-anchor="end" fill="#1a1a1a" textLength="15.2" lengthAdjust="spacingAndGlyphs">1.2</text>
<text x="355" y="585.2" font-size="10.4" font-weight="bold" stroke="#1a1a1a" stroke-width="0.3" text-anchor="end" fill="#1a1a1a" textLength="15.2" lengthAdjust="spacingAndGlyphs">1.4</text>
<text x="355" y="552.7" font-size="10.4" font-weight="bold" stroke="#1a1a1a" stroke-width="0.3" text-anchor="end" fill="#1a1a1a" textLength="15.2" lengthAdjust="spacingAndGlyphs">1.6</text>
<text x="355" y="520.2" font-size="10.4" font-weight="bold" stroke="#1a1a1a" stroke-width="0.3" text-anchor="end" fill="#1a1a1a" textLength="15.2" lengthAdjust="spacingAndGlyphs">1.8</text>
<text x="355" y="487.7" font-size="10.4" font-weight="bold" stroke="#1a1a1a" stroke-width="0.3" text-anchor="end" fill="#1a1a1a" textLength="15.2" lengthAdjust="spacingAndGlyphs">2.0</text>
<text x="355" y="455.2" font-size="10.4" font-weight="bold" stroke="#1a1a1a" stroke-width="0.3" text-anchor="end" fill="#1a1a1a" textLength="15.2" lengthAdjust="spacingAndGlyphs">2.2</text>
<text x="366.6" y="643.6" font-size="10.4" font-weight="bold" stroke="#1a1a1a" stroke-width="0.3" text-anchor="middle" fill="#1a1a1a" textLength="6.2" lengthAdjust="spacingAndGlyphs">0</text>
<text x="400.88" y="643.6" font-size="10.4" font-weight="bold" stroke="#1a1a1a" stroke-width="0.3" text-anchor="middle" fill="#1a1a1a" textLength="6.2" lengthAdjust="spacingAndGlyphs">5</text>
<text x="435.15" y="643.6" font-size="10.4" font-weight="bold" stroke="#1a1a1a" stroke-width="0.3" text-anchor="middle" fill="#1a1a1a" textLength="12.2" lengthAdjust="spacingAndGlyphs">10</text>
<text x="469.43" y="643.6" font-size="10.4" font-weight="bold" stroke="#1a1a1a" stroke-width="0.3" text-anchor="middle" fill="#1a1a1a" textLength="12.2" lengthAdjust="spacingAndGlyphs">15</text>
<text x="503.7" y="643.6" font-size="10.4" font-weight="bold" stroke="#1a1a1a" stroke-width="0.3" text-anchor="middle" fill="#1a1a1a" textLength="12.2" lengthAdjust="spacingAndGlyphs">20</text>
<text x="537.98" y="643.6" font-size="10.4" font-weight="bold" stroke="#1a1a1a" stroke-width="0.3" text-anchor="middle" fill="#1a1a1a" textLength="12.2" lengthAdjust="spacingAndGlyphs">25</text>
<text x="572.25" y="643.6" font-size="10.4" font-weight="bold" stroke="#1a1a1a" stroke-width="0.3" text-anchor="middle" fill="#1a1a1a" textLength="12.2" lengthAdjust="spacingAndGlyphs">30</text>
<text x="606.53" y="643.6" font-size="10.4" font-weight="bold" stroke="#1a1a1a" stroke-width="0.3" text-anchor="middle" fill="#1a1a1a" textLength="12.2" lengthAdjust="spacingAndGlyphs">35</text>
<text x="640.8" y="643.6" font-size="10.4" font-weight="bold" stroke="#1a1a1a" stroke-width="0.3" text-anchor="middle" fill="#1a1a1a" textLength="12.2" lengthAdjust="spacingAndGlyphs">40</text>
<text x="675.08" y="643.6" font-size="10.4" font-weight="bold" stroke="#1a1a1a" stroke-width="0.3" text-anchor="middle" fill="#1a1a1a" textLength="12.2" lengthAdjust="spacingAndGlyphs">45</text>
<text x="709.35" y="643.6" font-size="10.4" font-weight="bold" stroke="#1a1a1a" stroke-width="0.3" text-anchor="middle" fill="#1a1a1a" textLength="12.2" lengthAdjust="spacingAndGlyphs">50</text>
<text x="743.62" y="643.6" font-size="10.4" font-weight="bold" stroke="#1a1a1a" stroke-width="0.3" text-anchor="middle" fill="#1a1a1a" textLength="12.2" lengthAdjust="spacingAndGlyphs">55</text>
<text x="338.1" y="546.6" font-size="15.2" font-weight="bold" stroke="#1a1a1a" stroke-width="0.3" text-anchor="middle" fill="#1a1a1a" textLength="79.9" lengthAdjust="spacingAndGlyphs" transform="rotate(-90 338.1 546.6)"><tspan font-style="italic">E</tspan> vs. Zn / V</text>
<text x="551.5" y="662.7" font-size="14.6" font-weight="bold" stroke="#1a1a1a" stroke-width="0.3" text-anchor="middle" fill="#1a1a1a" textLength="25.6" lengthAdjust="spacingAndGlyphs"><tspan font-style="italic">t</tspan> / h</text>
<text x="308.8" y="464.3" font-size="20.3" font-weight="bold" stroke="#1a1a1a" stroke-width="0.3" fill="#1a1a1a" textLength="19.4" lengthAdjust="spacingAndGlyphs">(f)</text>
<text x="377" y="473.7" font-size="14.8" font-weight="bold" stroke="#1a1a1a" stroke-width="0.3" fill="#1a1a1a" textLength="63.7" lengthAdjust="spacingAndGlyphs">FeNi-N-C</text>
</g>
</svg></body></html>
